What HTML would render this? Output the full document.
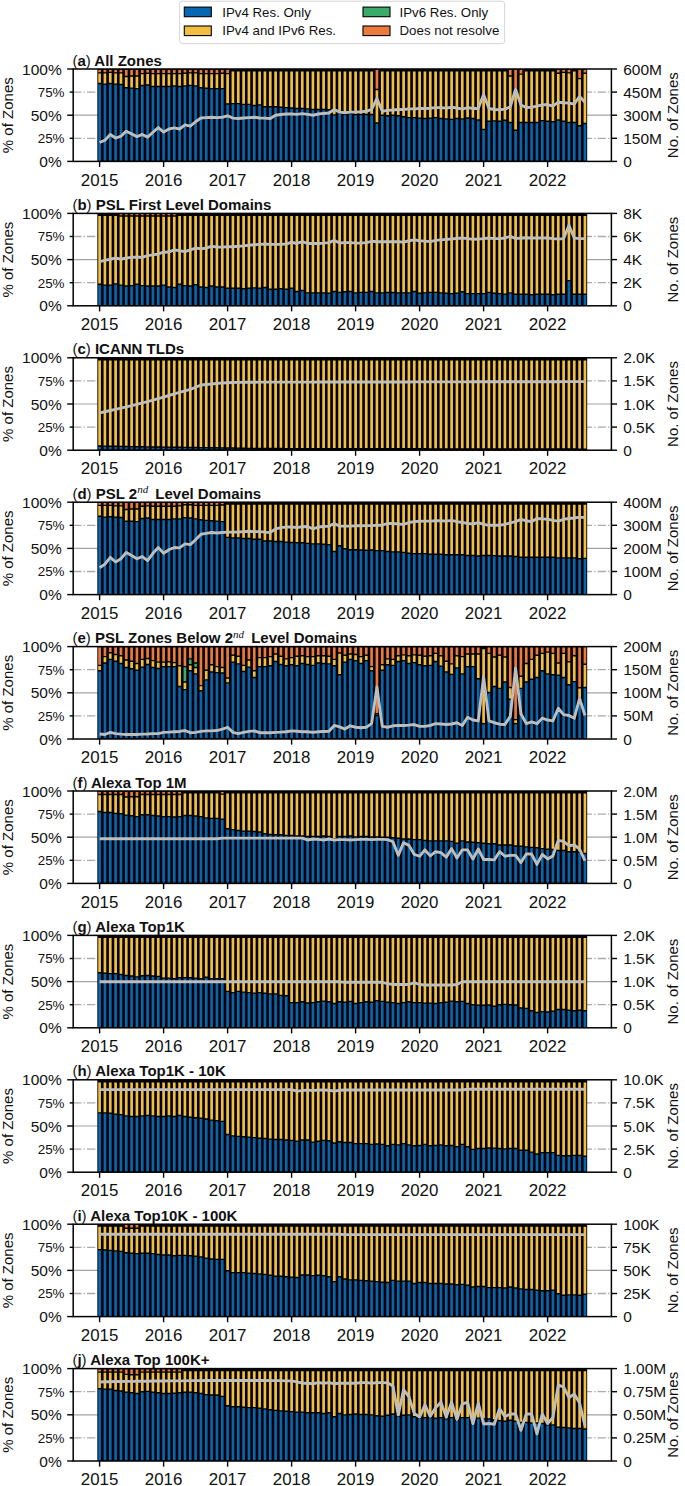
<!DOCTYPE html><html><head><meta charset="utf-8"><style>
html,body{margin:0;padding:0;background:#fff;width:685px;height:1486px;overflow:hidden}
svg{display:block}text{font-family:"Liberation Sans",sans-serif;fill:#111}
.t{font-size:15.5px}.mn{font-size:13.4px}.x{font-size:16.9px}.yl{font-size:15px}.ti{font-size:15px;font-weight:bold}.sup{font-family:"Liberation Serif",serif;font-style:italic;font-weight:normal;font-size:11px}
</style></head><body>
<svg width="685" height="1486" viewBox="0 0 685 1486">
<rect x="179.6" y="1.2" width="325" height="42.4" rx="2.5" fill="#fff" stroke="#d6d6d6" stroke-width="1"/>
<rect x="184.3" y="7.1" width="27" height="9.6" fill="#0866b0" stroke="#000" stroke-width="1.1"/>
<text x="222.20000000000002" y="16.5" font-size="13.3">IPv4 Res. Only</text>
<rect x="184.3" y="26.0" width="27" height="9.6" fill="#f2be42" stroke="#000" stroke-width="1.1"/>
<text x="222.20000000000002" y="35.4" font-size="13.3">IPv4 and IPv6 Res.</text>
<rect x="363.0" y="7.1" width="27" height="9.6" fill="#3baa6a" stroke="#000" stroke-width="1.1"/>
<text x="399.5" y="16.5" font-size="13.3">IPv6 Res. Only</text>
<rect x="363.0" y="26.0" width="27" height="9.6" fill="#eb7a3c" stroke="#000" stroke-width="1.1"/>
<text x="399.5" y="35.4" font-size="13.3">Does not resolve</text>
<line x1="73.2" x2="611.4" y1="138.30" y2="138.30" stroke="#aaaaaa" stroke-width="1.3" stroke-dasharray="8.3,2.1,1.3,2.1"/>
<line x1="73.2" x2="611.4" y1="92.10" y2="92.10" stroke="#aaaaaa" stroke-width="1.3" stroke-dasharray="8.3,2.1,1.3,2.1"/>
<line x1="73.2" x2="611.4" y1="115.20" y2="115.20" stroke="#a4a4a4" stroke-width="1.2"/>
<rect x="97.35" y="69.00" width="489.83" height="92.40" fill="#000"/>
<path fill="#0866b0" d="M98.25 84.26h2.7v76.44h-2.7zM103.58 84.80h2.7v75.90h-2.7zM108.92 84.26h2.7v76.44h-2.7zM114.25 84.80h2.7v75.90h-2.7zM119.58 85.16h2.7v75.54h-2.7zM124.92 88.42h2.7v72.28h-2.7zM130.25 88.78h2.7v71.92h-2.7zM135.58 89.33h2.7v71.37h-2.7zM140.92 86.25h2.7v74.45h-2.7zM146.25 85.71h2.7v74.99h-2.7zM151.58 87.16h2.7v73.54h-2.7zM156.92 87.16h2.7v73.54h-2.7zM162.25 87.16h2.7v73.54h-2.7zM167.58 87.16h2.7v73.54h-2.7zM172.92 86.61h2.7v74.09h-2.7zM178.25 87.16h2.7v73.54h-2.7zM183.58 86.61h2.7v74.09h-2.7zM188.92 86.07h2.7v74.63h-2.7zM194.25 86.61h2.7v74.09h-2.7zM199.58 88.42h2.7v72.28h-2.7zM204.92 88.97h2.7v71.73h-2.7zM210.25 89.33h2.7v71.37h-2.7zM215.58 89.33h2.7v71.37h-2.7zM220.92 89.33h2.7v71.37h-2.7zM226.25 104.71h2.7v55.99h-2.7zM231.58 104.35h2.7v56.35h-2.7zM236.92 104.35h2.7v56.35h-2.7zM242.25 105.08h2.7v55.62h-2.7zM247.58 105.08h2.7v55.62h-2.7zM252.92 106.16h2.7v54.54h-2.7zM258.25 105.62h2.7v55.08h-2.7zM263.58 107.43h2.7v53.27h-2.7zM268.92 107.43h2.7v53.27h-2.7zM274.25 107.43h2.7v53.27h-2.7zM279.58 107.97h2.7v52.73h-2.7zM284.92 108.34h2.7v52.36h-2.7zM290.25 108.70h2.7v52.00h-2.7zM295.58 109.24h2.7v51.46h-2.7zM300.92 109.24h2.7v51.46h-2.7zM306.25 109.60h2.7v51.10h-2.7zM311.58 110.15h2.7v50.55h-2.7zM316.92 110.15h2.7v50.55h-2.7zM322.25 110.15h2.7v50.55h-2.7zM327.58 110.51h2.7v50.19h-2.7zM332.92 115.58h2.7v45.12h-2.7zM338.25 113.40h2.7v47.30h-2.7zM343.58 115.21h2.7v45.49h-2.7zM348.92 114.13h2.7v46.57h-2.7zM354.25 115.21h2.7v45.49h-2.7zM359.58 115.21h2.7v45.49h-2.7zM364.92 115.21h2.7v45.49h-2.7zM370.25 115.21h2.7v45.49h-2.7zM375.58 123.72h2.7v36.98h-2.7zM380.92 115.94h2.7v44.76h-2.7zM386.25 116.48h2.7v44.22h-2.7zM391.58 115.94h2.7v44.76h-2.7zM396.92 116.48h2.7v44.22h-2.7zM402.25 117.39h2.7v43.31h-2.7zM407.58 118.29h2.7v42.41h-2.7zM412.92 118.29h2.7v42.41h-2.7zM418.25 118.83h2.7v41.87h-2.7zM423.58 119.20h2.7v41.50h-2.7zM428.92 118.83h2.7v41.87h-2.7zM434.25 118.29h2.7v42.41h-2.7zM439.58 119.20h2.7v41.50h-2.7zM444.92 119.56h2.7v41.14h-2.7zM450.25 120.10h2.7v40.60h-2.7zM455.58 119.20h2.7v41.50h-2.7zM460.92 119.56h2.7v41.14h-2.7zM466.25 118.65h2.7v42.05h-2.7zM471.58 119.20h2.7v41.50h-2.7zM476.92 120.64h2.7v40.06h-2.7zM482.25 130.06h2.7v30.64h-2.7zM487.58 121.91h2.7v38.79h-2.7zM492.92 121.55h2.7v39.15h-2.7zM498.25 121.91h2.7v38.79h-2.7zM503.58 121.01h2.7v39.69h-2.7zM508.92 123.18h2.7v37.52h-2.7zM514.25 130.96h2.7v29.74h-2.7zM519.58 123.18h2.7v37.52h-2.7zM524.92 123.18h2.7v37.52h-2.7zM530.25 123.18h2.7v37.52h-2.7zM535.58 123.18h2.7v37.52h-2.7zM540.92 121.37h2.7v39.33h-2.7zM546.25 121.91h2.7v38.79h-2.7zM551.58 122.45h2.7v38.25h-2.7zM556.92 120.64h2.7v40.06h-2.7zM562.25 121.91h2.7v38.79h-2.7zM567.58 123.18h2.7v37.52h-2.7zM572.92 123.18h2.7v37.52h-2.7zM578.25 126.44h2.7v34.26h-2.7zM583.58 124.26h2.7v36.44h-2.7z"/>
<path fill="#f2be42" d="M98.25 73.58h2.7v9.28h-2.7zM103.58 73.58h2.7v9.82h-2.7zM108.92 73.04h2.7v9.82h-2.7zM114.25 73.58h2.7v9.82h-2.7zM119.58 73.58h2.7v10.19h-2.7zM124.92 77.20h2.7v9.82h-2.7zM130.25 76.66h2.7v10.73h-2.7zM135.58 76.66h2.7v11.27h-2.7zM140.92 74.30h2.7v10.55h-2.7zM146.25 73.94h2.7v10.37h-2.7zM151.58 74.30h2.7v11.45h-2.7zM156.92 74.30h2.7v11.45h-2.7zM162.25 74.30h2.7v11.45h-2.7zM167.58 74.30h2.7v11.45h-2.7zM172.92 74.30h2.7v10.91h-2.7zM178.25 74.30h2.7v11.45h-2.7zM183.58 73.94h2.7v11.27h-2.7zM188.92 73.58h2.7v11.09h-2.7zM194.25 73.58h2.7v11.63h-2.7zM199.58 74.30h2.7v12.72h-2.7zM204.92 74.30h2.7v13.26h-2.7zM210.25 74.30h2.7v13.62h-2.7zM215.58 74.30h2.7v13.62h-2.7zM220.92 73.94h2.7v13.99h-2.7zM226.25 74.30h2.7v29.01h-2.7zM231.58 71.60h2.7v31.35h-2.7zM236.92 71.60h2.7v31.35h-2.7zM242.25 71.60h2.7v32.08h-2.7zM247.58 71.60h2.7v32.08h-2.7zM252.92 71.60h2.7v33.16h-2.7zM258.25 71.60h2.7v32.62h-2.7zM263.58 71.60h2.7v34.43h-2.7zM268.92 71.60h2.7v34.43h-2.7zM274.25 71.60h2.7v34.43h-2.7zM279.58 71.60h2.7v34.97h-2.7zM284.92 71.60h2.7v35.34h-2.7zM290.25 71.60h2.7v35.70h-2.7zM295.58 71.60h2.7v36.24h-2.7zM300.92 71.60h2.7v36.24h-2.7zM306.25 71.60h2.7v36.60h-2.7zM311.58 71.60h2.7v37.15h-2.7zM316.92 71.60h2.7v37.15h-2.7zM322.25 71.60h2.7v37.15h-2.7zM327.58 71.60h2.7v37.51h-2.7zM332.92 71.60h2.7v42.58h-2.7zM338.25 71.60h2.7v40.40h-2.7zM343.58 71.60h2.7v42.21h-2.7zM348.92 71.60h2.7v41.13h-2.7zM354.25 71.60h2.7v42.21h-2.7zM359.58 71.60h2.7v42.21h-2.7zM364.92 71.60h2.7v42.21h-2.7zM370.25 71.60h2.7v42.21h-2.7zM375.58 90.23h2.7v32.09h-2.7zM380.92 71.60h2.7v42.94h-2.7zM386.25 71.60h2.7v43.48h-2.7zM391.58 71.60h2.7v42.94h-2.7zM396.92 71.60h2.7v43.48h-2.7zM402.25 71.60h2.7v44.39h-2.7zM407.58 71.60h2.7v45.29h-2.7zM412.92 71.60h2.7v45.29h-2.7zM418.25 71.60h2.7v45.83h-2.7zM423.58 71.60h2.7v46.20h-2.7zM428.92 71.60h2.7v45.83h-2.7zM434.25 71.60h2.7v45.29h-2.7zM439.58 71.60h2.7v46.20h-2.7zM444.92 71.60h2.7v46.56h-2.7zM450.25 71.60h2.7v47.10h-2.7zM455.58 71.60h2.7v46.20h-2.7zM460.92 71.60h2.7v46.56h-2.7zM466.25 71.60h2.7v45.65h-2.7zM471.58 71.60h2.7v46.20h-2.7zM476.92 71.60h2.7v47.64h-2.7zM482.25 71.60h2.7v57.06h-2.7zM487.58 71.60h2.7v48.91h-2.7zM492.92 71.60h2.7v48.55h-2.7zM498.25 71.60h2.7v48.91h-2.7zM503.58 71.60h2.7v48.01h-2.7zM508.92 76.66h2.7v45.12h-2.7zM514.25 89.33h2.7v40.24h-2.7zM519.58 74.85h2.7v46.93h-2.7zM524.92 71.60h2.7v50.18h-2.7zM530.25 71.60h2.7v50.18h-2.7zM535.58 71.60h2.7v50.18h-2.7zM540.92 71.60h2.7v48.37h-2.7zM546.25 71.60h2.7v48.91h-2.7zM551.58 71.60h2.7v49.45h-2.7zM556.92 73.94h2.7v45.30h-2.7zM562.25 73.04h2.7v47.48h-2.7zM567.58 73.58h2.7v48.20h-2.7zM572.92 71.60h2.7v50.18h-2.7zM578.25 79.37h2.7v45.67h-2.7zM583.58 73.94h2.7v48.92h-2.7z"/>
<path fill="#eb7a3c" d="M98.25 69.70h2.7v2.48h-2.7zM103.58 69.70h2.7v2.48h-2.7zM108.92 69.70h2.7v1.94h-2.7zM114.25 69.70h2.7v2.48h-2.7zM119.58 69.70h2.7v2.48h-2.7zM124.92 69.70h2.7v6.10h-2.7zM130.25 69.70h2.7v5.56h-2.7zM135.58 69.70h2.7v5.56h-2.7zM140.92 69.70h2.7v3.20h-2.7zM146.25 69.70h2.7v2.84h-2.7zM151.58 69.70h2.7v3.20h-2.7zM156.92 69.70h2.7v3.20h-2.7zM162.25 69.70h2.7v3.20h-2.7zM167.58 69.70h2.7v3.20h-2.7zM172.92 69.70h2.7v3.20h-2.7zM178.25 69.70h2.7v3.20h-2.7zM183.58 69.70h2.7v2.84h-2.7zM188.92 69.70h2.7v2.48h-2.7zM194.25 69.70h2.7v2.48h-2.7zM199.58 69.70h2.7v3.20h-2.7zM204.92 69.70h2.7v3.20h-2.7zM210.25 69.70h2.7v3.20h-2.7zM215.58 69.70h2.7v3.20h-2.7zM220.92 69.70h2.7v2.84h-2.7zM226.25 69.70h2.7v3.20h-2.7zM375.58 69.70h2.7v19.13h-2.7zM508.92 69.70h2.7v5.56h-2.7zM514.25 69.70h2.7v18.23h-2.7zM519.58 69.70h2.7v3.75h-2.7zM556.92 69.70h2.7v2.84h-2.7zM562.25 69.70h2.7v1.94h-2.7zM567.58 69.70h2.7v2.48h-2.7zM578.25 69.70h2.7v8.27h-2.7zM583.58 69.70h2.7v2.84h-2.7z"/>
<polyline points="99.60,142.39 104.93,140.22 110.27,134.43 115.60,138.05 120.93,136.24 126.27,131.17 131.60,133.88 136.93,136.60 142.27,134.43 147.60,137.14 152.93,132.25 158.27,127.55 163.60,132.07 168.93,129.00 174.27,127.91 179.60,129.00 184.93,124.83 190.27,126.10 195.60,121.75 200.93,117.95 206.27,117.59 211.60,117.23 216.93,117.59 222.27,117.23 227.60,115.78 232.93,118.13 238.27,118.50 243.60,117.95 248.93,117.59 254.27,117.23 259.60,117.95 264.93,118.13 270.27,118.50 275.60,115.24 280.93,114.51 286.27,113.97 291.60,113.97 296.93,114.33 302.27,113.61 307.60,114.33 312.93,115.24 318.27,113.97 323.60,113.43 328.93,113.07 334.27,109.45 339.60,112.16 344.93,112.70 350.27,112.16 355.60,112.16 360.93,111.80 366.27,111.26 371.60,109.45 376.93,98.58 382.27,111.26 387.60,110.35 392.93,109.99 398.27,109.45 403.60,109.45 408.93,108.90 414.27,108.90 419.60,108.54 424.93,108.54 430.27,108.18 435.60,107.64 440.93,107.64 446.27,108.18 451.60,107.27 456.93,108.00 462.27,109.08 467.60,107.64 472.93,108.54 478.27,108.54 483.60,94.60 488.93,108.54 494.27,109.45 499.60,109.81 504.93,109.08 510.27,106.73 515.60,89.17 520.93,104.92 526.27,107.64 531.60,107.27 536.93,106.19 542.27,104.92 547.60,104.56 552.93,106.19 558.27,102.20 563.60,102.75 568.93,103.11 574.27,104.01 579.60,96.41 584.93,102.20" fill="none" stroke="#bebebe" stroke-width="2.9" stroke-linejoin="round"/>
<rect x="73.2" y="69.0" width="538.1999999999999" height="92.4" fill="none" stroke="#000" stroke-width="1.5"/>
<line x1="67.2" x2="73.2" y1="161.40" y2="161.40" stroke="#000" stroke-width="1.4"/>
<line x1="611.4" x2="617.0" y1="161.40" y2="161.40" stroke="#000" stroke-width="1.4"/>
<text class="t" x="61.7" y="166.90" text-anchor="end">0%</text>
<text class="t" x="623.2" y="166.90">0</text>
<line x1="69.7" x2="73.2" y1="138.30" y2="138.30" stroke="#000" stroke-width="1.4"/>
<line x1="611.4" x2="617.0" y1="138.30" y2="138.30" stroke="#000" stroke-width="1.4"/>
<text class="mn" x="64.5" y="143.10" text-anchor="end">25%</text>
<text class="t" x="623.2" y="143.80">150M</text>
<line x1="67.2" x2="73.2" y1="115.20" y2="115.20" stroke="#000" stroke-width="1.4"/>
<line x1="611.4" x2="617.0" y1="115.20" y2="115.20" stroke="#000" stroke-width="1.4"/>
<text class="t" x="61.7" y="120.70" text-anchor="end">50%</text>
<text class="t" x="623.2" y="120.70">300M</text>
<line x1="69.7" x2="73.2" y1="92.10" y2="92.10" stroke="#000" stroke-width="1.4"/>
<line x1="611.4" x2="617.0" y1="92.10" y2="92.10" stroke="#000" stroke-width="1.4"/>
<text class="mn" x="64.5" y="96.90" text-anchor="end">75%</text>
<text class="t" x="623.2" y="97.60">450M</text>
<line x1="67.2" x2="73.2" y1="69.00" y2="69.00" stroke="#000" stroke-width="1.4"/>
<line x1="611.4" x2="617.0" y1="69.00" y2="69.00" stroke="#000" stroke-width="1.4"/>
<text class="t" x="61.7" y="74.50" text-anchor="end">100%</text>
<text class="t" x="623.2" y="74.50">600M</text>
<line x1="99.60" x2="99.60" y1="161.4" y2="167.0" stroke="#000" stroke-width="1.4"/>
<text class="x" x="99.60" y="185.60" text-anchor="middle">2015</text>
<line x1="163.60" x2="163.60" y1="161.4" y2="167.0" stroke="#000" stroke-width="1.4"/>
<text class="x" x="163.60" y="185.60" text-anchor="middle">2016</text>
<line x1="227.60" x2="227.60" y1="161.4" y2="167.0" stroke="#000" stroke-width="1.4"/>
<text class="x" x="227.60" y="185.60" text-anchor="middle">2017</text>
<line x1="291.60" x2="291.60" y1="161.4" y2="167.0" stroke="#000" stroke-width="1.4"/>
<text class="x" x="291.60" y="185.60" text-anchor="middle">2018</text>
<line x1="355.60" x2="355.60" y1="161.4" y2="167.0" stroke="#000" stroke-width="1.4"/>
<text class="x" x="355.60" y="185.60" text-anchor="middle">2019</text>
<line x1="419.60" x2="419.60" y1="161.4" y2="167.0" stroke="#000" stroke-width="1.4"/>
<text class="x" x="419.60" y="185.60" text-anchor="middle">2020</text>
<line x1="483.60" x2="483.60" y1="161.4" y2="167.0" stroke="#000" stroke-width="1.4"/>
<text class="x" x="483.60" y="185.60" text-anchor="middle">2021</text>
<line x1="547.60" x2="547.60" y1="161.4" y2="167.0" stroke="#000" stroke-width="1.4"/>
<text class="x" x="547.60" y="185.60" text-anchor="middle">2022</text>
<text class="ti" x="72.4" y="65.60"><tspan font-weight="normal">(</tspan>a<tspan font-weight="normal">)</tspan> All Zones</text>
<text class="yl" text-anchor="middle" transform="translate(12.8,115.20) rotate(-90)">% of Zones</text>
<text class="yl" text-anchor="middle" transform="translate(678.2,115.20) rotate(-90)">No. of Zones</text>
<line x1="73.2" x2="611.4" y1="282.70" y2="282.70" stroke="#aaaaaa" stroke-width="1.3" stroke-dasharray="8.3,2.1,1.3,2.1"/>
<line x1="73.2" x2="611.4" y1="236.50" y2="236.50" stroke="#aaaaaa" stroke-width="1.3" stroke-dasharray="8.3,2.1,1.3,2.1"/>
<line x1="73.2" x2="611.4" y1="259.60" y2="259.60" stroke="#a4a4a4" stroke-width="1.2"/>
<rect x="97.35" y="213.40" width="489.83" height="92.40" fill="#000"/>
<path fill="#0866b0" d="M98.25 284.92h2.7v20.18h-2.7zM103.58 285.82h2.7v19.28h-2.7zM108.92 285.82h2.7v19.28h-2.7zM114.25 284.56h2.7v20.54h-2.7zM119.58 285.82h2.7v19.28h-2.7zM124.92 286.73h2.7v18.37h-2.7zM130.25 286.37h2.7v18.73h-2.7zM135.58 284.92h2.7v20.18h-2.7zM140.92 286.37h2.7v18.73h-2.7zM146.25 286.73h2.7v18.37h-2.7zM151.58 286.73h2.7v18.37h-2.7zM156.92 286.73h2.7v18.37h-2.7zM162.25 285.82h2.7v19.28h-2.7zM167.58 287.63h2.7v17.47h-2.7zM172.92 288.18h2.7v16.92h-2.7zM178.25 284.92h2.7v20.18h-2.7zM183.58 286.37h2.7v18.73h-2.7zM188.92 286.73h2.7v18.37h-2.7zM194.25 285.28h2.7v19.82h-2.7zM199.58 287.63h2.7v17.47h-2.7zM204.92 288.18h2.7v16.92h-2.7zM210.25 286.73h2.7v18.37h-2.7zM215.58 287.63h2.7v17.47h-2.7zM220.92 287.63h2.7v17.47h-2.7zM226.25 288.90h2.7v16.20h-2.7zM231.58 288.90h2.7v16.20h-2.7zM236.92 288.90h2.7v16.20h-2.7zM242.25 289.44h2.7v15.66h-2.7zM247.58 288.90h2.7v16.20h-2.7zM252.92 288.54h2.7v16.56h-2.7zM258.25 288.90h2.7v16.20h-2.7zM263.58 288.18h2.7v16.92h-2.7zM268.92 289.99h2.7v15.11h-2.7zM274.25 289.99h2.7v15.11h-2.7zM279.58 289.44h2.7v15.66h-2.7zM284.92 289.99h2.7v15.11h-2.7zM290.25 288.90h2.7v16.20h-2.7zM295.58 292.16h2.7v12.94h-2.7zM300.92 291.25h2.7v13.85h-2.7zM306.25 293.61h2.7v11.49h-2.7zM311.58 293.61h2.7v11.49h-2.7zM316.92 293.61h2.7v11.49h-2.7zM322.25 293.61h2.7v11.49h-2.7zM327.58 293.97h2.7v11.13h-2.7zM332.92 292.16h2.7v12.94h-2.7zM338.25 293.06h2.7v12.04h-2.7zM343.58 292.52h2.7v12.58h-2.7zM348.92 292.16h2.7v12.94h-2.7zM354.25 293.61h2.7v11.49h-2.7zM359.58 293.06h2.7v12.04h-2.7zM364.92 293.06h2.7v12.04h-2.7zM370.25 292.16h2.7v12.94h-2.7zM375.58 293.61h2.7v11.49h-2.7zM380.92 293.61h2.7v11.49h-2.7zM386.25 293.25h2.7v11.85h-2.7zM391.58 293.25h2.7v11.85h-2.7zM396.92 293.61h2.7v11.49h-2.7zM402.25 293.61h2.7v11.49h-2.7zM407.58 293.61h2.7v11.49h-2.7zM412.92 292.16h2.7v12.94h-2.7zM418.25 293.97h2.7v11.13h-2.7zM423.58 293.61h2.7v11.49h-2.7zM428.92 293.06h2.7v12.04h-2.7zM434.25 293.06h2.7v12.04h-2.7zM439.58 293.61h2.7v11.49h-2.7zM444.92 293.97h2.7v11.13h-2.7zM450.25 294.33h2.7v10.77h-2.7zM455.58 293.97h2.7v11.13h-2.7zM460.92 292.52h2.7v12.58h-2.7zM466.25 294.33h2.7v10.77h-2.7zM471.58 294.33h2.7v10.77h-2.7zM476.92 294.33h2.7v10.77h-2.7zM482.25 294.33h2.7v10.77h-2.7zM487.58 293.06h2.7v12.04h-2.7zM492.92 293.97h2.7v11.13h-2.7zM498.25 294.33h2.7v10.77h-2.7zM503.58 294.88h2.7v10.22h-2.7zM508.92 293.61h2.7v11.49h-2.7zM514.25 294.88h2.7v10.22h-2.7zM519.58 294.88h2.7v10.22h-2.7zM524.92 294.88h2.7v10.22h-2.7zM530.25 295.42h2.7v9.68h-2.7zM535.58 294.88h2.7v10.22h-2.7zM540.92 294.88h2.7v10.22h-2.7zM546.25 294.88h2.7v10.22h-2.7zM551.58 295.42h2.7v9.68h-2.7zM556.92 294.88h2.7v10.22h-2.7zM562.25 294.88h2.7v10.22h-2.7zM567.58 281.30h2.7v23.80h-2.7zM572.92 294.88h2.7v10.22h-2.7zM578.25 294.88h2.7v10.22h-2.7zM583.58 294.88h2.7v10.22h-2.7z"/>
<path fill="#f2be42" d="M98.25 216.00h2.7v67.52h-2.7zM103.58 216.00h2.7v68.42h-2.7zM108.92 216.00h2.7v68.42h-2.7zM114.25 216.00h2.7v67.16h-2.7zM119.58 216.67h2.7v67.75h-2.7zM124.92 216.67h2.7v68.66h-2.7zM130.25 216.67h2.7v68.29h-2.7zM135.58 216.67h2.7v66.85h-2.7zM140.92 216.67h2.7v68.29h-2.7zM146.25 216.67h2.7v68.66h-2.7zM151.58 216.67h2.7v68.66h-2.7zM156.92 216.67h2.7v68.66h-2.7zM162.25 216.67h2.7v67.75h-2.7zM167.58 216.67h2.7v69.56h-2.7zM172.92 216.67h2.7v70.10h-2.7zM178.25 216.00h2.7v67.52h-2.7zM183.58 216.00h2.7v68.97h-2.7zM188.92 216.00h2.7v69.33h-2.7zM194.25 216.00h2.7v67.88h-2.7zM199.58 216.00h2.7v70.23h-2.7zM204.92 216.00h2.7v70.78h-2.7zM210.25 216.00h2.7v69.33h-2.7zM215.58 216.00h2.7v70.23h-2.7zM220.92 216.00h2.7v70.23h-2.7zM226.25 216.00h2.7v71.50h-2.7zM231.58 216.00h2.7v71.50h-2.7zM236.92 216.00h2.7v71.50h-2.7zM242.25 216.00h2.7v72.04h-2.7zM247.58 216.00h2.7v71.50h-2.7zM252.92 216.00h2.7v71.14h-2.7zM258.25 216.00h2.7v71.50h-2.7zM263.58 216.00h2.7v70.78h-2.7zM268.92 216.00h2.7v72.59h-2.7zM274.25 216.00h2.7v72.59h-2.7zM279.58 216.00h2.7v72.04h-2.7zM284.92 216.00h2.7v72.59h-2.7zM290.25 216.00h2.7v71.50h-2.7zM295.58 216.00h2.7v74.76h-2.7zM300.92 216.00h2.7v73.85h-2.7zM306.25 216.00h2.7v76.21h-2.7zM311.58 216.00h2.7v76.21h-2.7zM316.92 216.00h2.7v76.21h-2.7zM322.25 216.00h2.7v76.21h-2.7zM327.58 216.00h2.7v76.57h-2.7zM332.92 216.00h2.7v74.76h-2.7zM338.25 216.00h2.7v75.66h-2.7zM343.58 216.00h2.7v75.12h-2.7zM348.92 216.00h2.7v74.76h-2.7zM354.25 216.00h2.7v76.21h-2.7zM359.58 216.00h2.7v75.66h-2.7zM364.92 216.00h2.7v75.66h-2.7zM370.25 216.00h2.7v74.76h-2.7zM375.58 216.00h2.7v76.21h-2.7zM380.92 216.00h2.7v76.21h-2.7zM386.25 216.00h2.7v75.85h-2.7zM391.58 216.00h2.7v75.85h-2.7zM396.92 216.00h2.7v76.21h-2.7zM402.25 216.00h2.7v76.21h-2.7zM407.58 216.00h2.7v76.21h-2.7zM412.92 216.00h2.7v74.76h-2.7zM418.25 216.00h2.7v76.57h-2.7zM423.58 216.00h2.7v76.21h-2.7zM428.92 216.00h2.7v75.66h-2.7zM434.25 216.00h2.7v75.66h-2.7zM439.58 216.00h2.7v76.21h-2.7zM444.92 216.00h2.7v76.57h-2.7zM450.25 216.00h2.7v76.93h-2.7zM455.58 216.00h2.7v76.57h-2.7zM460.92 216.00h2.7v75.12h-2.7zM466.25 216.00h2.7v76.93h-2.7zM471.58 216.00h2.7v76.93h-2.7zM476.92 216.00h2.7v76.93h-2.7zM482.25 216.00h2.7v76.93h-2.7zM487.58 216.00h2.7v75.66h-2.7zM492.92 216.00h2.7v76.57h-2.7zM498.25 216.00h2.7v76.93h-2.7zM503.58 216.00h2.7v77.48h-2.7zM508.92 216.00h2.7v76.21h-2.7zM514.25 216.00h2.7v77.48h-2.7zM519.58 216.00h2.7v77.48h-2.7zM524.92 216.00h2.7v77.48h-2.7zM530.25 216.00h2.7v78.02h-2.7zM535.58 216.00h2.7v77.48h-2.7zM540.92 216.00h2.7v77.48h-2.7zM546.25 216.00h2.7v77.48h-2.7zM551.58 216.00h2.7v78.02h-2.7zM556.92 216.00h2.7v77.48h-2.7zM562.25 216.00h2.7v77.48h-2.7zM567.58 216.00h2.7v63.90h-2.7zM572.92 216.00h2.7v77.48h-2.7zM578.25 216.00h2.7v77.48h-2.7zM583.58 216.00h2.7v77.48h-2.7z"/>
<path fill="#eb7a3c" d="M119.58 214.10h2.7v1.17h-2.7zM124.92 214.10h2.7v1.17h-2.7zM130.25 214.10h2.7v1.17h-2.7zM135.58 214.10h2.7v1.17h-2.7zM140.92 214.10h2.7v1.17h-2.7zM146.25 214.10h2.7v1.17h-2.7zM151.58 214.10h2.7v1.17h-2.7zM156.92 214.10h2.7v1.17h-2.7zM162.25 214.10h2.7v1.17h-2.7zM167.58 214.10h2.7v1.17h-2.7zM172.92 214.10h2.7v1.17h-2.7z"/>
<polyline points="99.60,261.59 104.93,260.32 110.27,259.24 115.60,257.97 120.93,259.24 126.27,257.97 131.60,257.43 136.93,257.07 142.27,257.43 147.60,255.62 152.93,254.89 158.27,253.99 163.60,252.18 168.93,252.00 174.27,249.82 179.60,250.73 184.93,251.64 190.27,249.82 195.60,248.01 200.93,248.92 206.27,248.01 211.60,246.20 216.93,247.11 222.27,247.11 227.60,246.75 232.93,246.75 238.27,246.20 243.60,245.84 248.93,245.30 254.27,244.76 259.60,244.39 264.93,244.03 270.27,244.39 275.60,244.39 280.93,244.39 286.27,244.03 291.60,242.22 296.93,243.49 302.27,241.68 307.60,243.49 312.93,243.49 318.27,243.49 323.60,243.13 328.93,242.58 334.27,240.41 339.60,242.95 344.93,242.58 350.27,242.58 355.60,243.13 360.93,243.13 366.27,242.58 371.60,241.32 376.93,241.68 382.27,241.68 387.60,241.68 392.93,241.68 398.27,241.68 403.60,242.22 408.93,240.77 414.27,239.87 419.60,240.77 424.93,241.14 430.27,241.68 435.60,240.41 440.93,239.87 446.27,239.33 451.60,238.96 456.93,238.42 462.27,238.06 467.60,238.60 472.93,239.33 478.27,238.96 483.60,238.60 488.93,238.06 494.27,238.60 499.60,238.60 504.93,238.06 510.27,236.25 515.60,238.60 520.93,238.06 526.27,237.70 531.60,238.06 536.93,238.06 542.27,238.06 547.60,238.06 552.93,238.60 558.27,238.96 563.60,238.60 568.93,225.39 574.27,238.06 579.60,238.60 584.93,238.60" fill="none" stroke="#bebebe" stroke-width="2.9" stroke-linejoin="round"/>
<rect x="73.2" y="213.4" width="538.1999999999999" height="92.4" fill="none" stroke="#000" stroke-width="1.5"/>
<line x1="67.2" x2="73.2" y1="305.80" y2="305.80" stroke="#000" stroke-width="1.4"/>
<line x1="611.4" x2="617.0" y1="305.80" y2="305.80" stroke="#000" stroke-width="1.4"/>
<text class="t" x="61.7" y="311.30" text-anchor="end">0%</text>
<text class="t" x="623.2" y="311.30">0</text>
<line x1="69.7" x2="73.2" y1="282.70" y2="282.70" stroke="#000" stroke-width="1.4"/>
<line x1="611.4" x2="617.0" y1="282.70" y2="282.70" stroke="#000" stroke-width="1.4"/>
<text class="mn" x="64.5" y="287.50" text-anchor="end">25%</text>
<text class="t" x="623.2" y="288.20">2K</text>
<line x1="67.2" x2="73.2" y1="259.60" y2="259.60" stroke="#000" stroke-width="1.4"/>
<line x1="611.4" x2="617.0" y1="259.60" y2="259.60" stroke="#000" stroke-width="1.4"/>
<text class="t" x="61.7" y="265.10" text-anchor="end">50%</text>
<text class="t" x="623.2" y="265.10">4K</text>
<line x1="69.7" x2="73.2" y1="236.50" y2="236.50" stroke="#000" stroke-width="1.4"/>
<line x1="611.4" x2="617.0" y1="236.50" y2="236.50" stroke="#000" stroke-width="1.4"/>
<text class="mn" x="64.5" y="241.30" text-anchor="end">75%</text>
<text class="t" x="623.2" y="242.00">6K</text>
<line x1="67.2" x2="73.2" y1="213.40" y2="213.40" stroke="#000" stroke-width="1.4"/>
<line x1="611.4" x2="617.0" y1="213.40" y2="213.40" stroke="#000" stroke-width="1.4"/>
<text class="t" x="61.7" y="218.90" text-anchor="end">100%</text>
<text class="t" x="623.2" y="218.90">8K</text>
<line x1="99.60" x2="99.60" y1="305.8" y2="311.40000000000003" stroke="#000" stroke-width="1.4"/>
<text class="x" x="99.60" y="330.00" text-anchor="middle">2015</text>
<line x1="163.60" x2="163.60" y1="305.8" y2="311.40000000000003" stroke="#000" stroke-width="1.4"/>
<text class="x" x="163.60" y="330.00" text-anchor="middle">2016</text>
<line x1="227.60" x2="227.60" y1="305.8" y2="311.40000000000003" stroke="#000" stroke-width="1.4"/>
<text class="x" x="227.60" y="330.00" text-anchor="middle">2017</text>
<line x1="291.60" x2="291.60" y1="305.8" y2="311.40000000000003" stroke="#000" stroke-width="1.4"/>
<text class="x" x="291.60" y="330.00" text-anchor="middle">2018</text>
<line x1="355.60" x2="355.60" y1="305.8" y2="311.40000000000003" stroke="#000" stroke-width="1.4"/>
<text class="x" x="355.60" y="330.00" text-anchor="middle">2019</text>
<line x1="419.60" x2="419.60" y1="305.8" y2="311.40000000000003" stroke="#000" stroke-width="1.4"/>
<text class="x" x="419.60" y="330.00" text-anchor="middle">2020</text>
<line x1="483.60" x2="483.60" y1="305.8" y2="311.40000000000003" stroke="#000" stroke-width="1.4"/>
<text class="x" x="483.60" y="330.00" text-anchor="middle">2021</text>
<line x1="547.60" x2="547.60" y1="305.8" y2="311.40000000000003" stroke="#000" stroke-width="1.4"/>
<text class="x" x="547.60" y="330.00" text-anchor="middle">2022</text>
<text class="ti" x="72.4" y="210.00"><tspan font-weight="normal">(</tspan>b<tspan font-weight="normal">)</tspan> PSL First Level Domains</text>
<text class="yl" text-anchor="middle" transform="translate(12.8,259.60) rotate(-90)">% of Zones</text>
<text class="yl" text-anchor="middle" transform="translate(678.2,259.60) rotate(-90)">No. of Zones</text>
<line x1="73.2" x2="611.4" y1="427.10" y2="427.10" stroke="#aaaaaa" stroke-width="1.3" stroke-dasharray="8.3,2.1,1.3,2.1"/>
<line x1="73.2" x2="611.4" y1="380.90" y2="380.90" stroke="#aaaaaa" stroke-width="1.3" stroke-dasharray="8.3,2.1,1.3,2.1"/>
<line x1="73.2" x2="611.4" y1="404.00" y2="404.00" stroke="#a4a4a4" stroke-width="1.2"/>
<rect x="97.35" y="357.80" width="489.83" height="92.40" fill="#000"/>
<path fill="#0866b0" d="M98.25 446.74h2.7v2.76h-2.7zM103.58 446.83h2.7v2.67h-2.7zM108.92 446.93h2.7v2.57h-2.7zM114.25 447.02h2.7v2.48h-2.7zM119.58 447.11h2.7v2.39h-2.7zM124.92 447.20h2.7v2.30h-2.7zM130.25 447.30h2.7v2.20h-2.7zM135.58 447.39h2.7v2.11h-2.7zM140.92 447.48h2.7v2.02h-2.7zM146.25 447.57h2.7v1.93h-2.7zM151.58 447.67h2.7v1.83h-2.7zM156.92 447.74h2.7v1.76h-2.7zM162.25 447.80h2.7v1.70h-2.7zM167.58 447.87h2.7v1.63h-2.7zM172.92 447.94h2.7v1.56h-2.7zM178.25 448.01h2.7v1.49h-2.7zM183.58 448.08h2.7v1.42h-2.7zM188.92 448.15h2.7v1.35h-2.7zM194.25 448.22h2.7v1.28h-2.7zM199.58 448.29h2.7v1.21h-2.7zM204.92 448.36h2.7v1.14h-2.7zM210.25 448.43h2.7v1.07h-2.7zM215.58 448.50h2.7v1.00h-2.7zM220.92 448.59h2.7v0.91h-2.7zM226.25 448.68h2.7v0.82h-2.7zM231.58 448.77h2.7v0.73h-2.7zM236.92 448.87h2.7v0.63h-2.7zM242.25 448.96h2.7v0.54h-2.7zM247.58 449.05h2.7v0.45h-2.7zM252.92 449.14h2.7v0.36h-2.7zM258.25 449.24h2.7v0.26h-2.7zM263.58 449.25h2.7v0.25h-2.7z"/>
<path fill="#f2be42" d="M98.25 360.40h2.7v84.94h-2.7zM103.58 360.40h2.7v85.03h-2.7zM108.92 360.40h2.7v85.13h-2.7zM114.25 360.40h2.7v85.22h-2.7zM119.58 360.40h2.7v85.31h-2.7zM124.92 360.40h2.7v85.40h-2.7zM130.25 360.40h2.7v85.50h-2.7zM135.58 360.40h2.7v85.59h-2.7zM140.92 360.40h2.7v85.68h-2.7zM146.25 360.40h2.7v85.77h-2.7zM151.58 360.40h2.7v85.87h-2.7zM156.92 360.40h2.7v85.94h-2.7zM162.25 360.40h2.7v86.00h-2.7zM167.58 360.40h2.7v86.07h-2.7zM172.92 360.40h2.7v86.14h-2.7zM178.25 360.40h2.7v86.21h-2.7zM183.58 360.40h2.7v86.28h-2.7zM188.92 360.40h2.7v86.35h-2.7zM194.25 360.40h2.7v86.42h-2.7zM199.58 360.40h2.7v86.49h-2.7zM204.92 360.40h2.7v86.56h-2.7zM210.25 360.40h2.7v86.63h-2.7zM215.58 360.40h2.7v86.70h-2.7zM220.92 360.40h2.7v86.79h-2.7zM226.25 360.40h2.7v86.88h-2.7zM231.58 360.40h2.7v86.97h-2.7zM236.92 360.40h2.7v87.07h-2.7zM242.25 360.40h2.7v87.16h-2.7zM247.58 360.40h2.7v87.25h-2.7zM252.92 360.40h2.7v87.34h-2.7zM258.25 360.40h2.7v87.44h-2.7zM263.58 360.40h2.7v87.45h-2.7zM268.92 360.40h2.7v87.45h-2.7zM274.25 360.40h2.7v87.46h-2.7zM279.58 360.40h2.7v87.47h-2.7zM284.92 360.40h2.7v87.48h-2.7zM290.25 360.40h2.7v87.49h-2.7zM295.58 360.40h2.7v87.50h-2.7zM300.92 360.40h2.7v87.51h-2.7zM306.25 360.40h2.7v87.52h-2.7zM311.58 360.40h2.7v87.53h-2.7zM316.92 360.40h2.7v87.54h-2.7zM322.25 360.40h2.7v87.55h-2.7zM327.58 360.40h2.7v87.55h-2.7zM332.92 360.40h2.7v87.56h-2.7zM338.25 360.40h2.7v87.57h-2.7zM343.58 360.40h2.7v87.58h-2.7zM348.92 360.40h2.7v87.59h-2.7zM354.25 360.40h2.7v87.60h-2.7zM359.58 360.40h2.7v87.61h-2.7zM364.92 360.40h2.7v87.62h-2.7zM370.25 360.40h2.7v87.63h-2.7zM375.58 360.40h2.7v87.64h-2.7zM380.92 360.40h2.7v87.65h-2.7zM386.25 360.40h2.7v87.65h-2.7zM391.58 360.40h2.7v87.66h-2.7zM396.92 360.40h2.7v87.67h-2.7zM402.25 360.40h2.7v87.68h-2.7zM407.58 360.40h2.7v87.69h-2.7zM412.92 360.40h2.7v87.70h-2.7zM418.25 360.40h2.7v87.71h-2.7zM423.58 360.40h2.7v87.72h-2.7zM428.92 360.40h2.7v87.73h-2.7zM434.25 360.40h2.7v87.74h-2.7zM439.58 360.40h2.7v87.75h-2.7zM444.92 360.40h2.7v87.75h-2.7zM450.25 360.40h2.7v87.76h-2.7zM455.58 360.40h2.7v87.77h-2.7zM460.92 360.40h2.7v87.78h-2.7zM466.25 360.40h2.7v87.79h-2.7zM471.58 360.40h2.7v87.80h-2.7zM476.92 360.40h2.7v87.81h-2.7zM482.25 360.40h2.7v87.82h-2.7zM487.58 360.40h2.7v87.83h-2.7zM492.92 360.40h2.7v87.84h-2.7zM498.25 360.40h2.7v87.85h-2.7zM503.58 360.40h2.7v87.85h-2.7zM508.92 360.40h2.7v87.86h-2.7zM514.25 360.40h2.7v87.87h-2.7zM519.58 360.40h2.7v87.88h-2.7zM524.92 360.40h2.7v87.89h-2.7zM530.25 360.40h2.7v87.90h-2.7zM535.58 360.40h2.7v87.91h-2.7zM540.92 360.40h2.7v87.92h-2.7zM546.25 360.40h2.7v87.93h-2.7zM551.58 360.40h2.7v87.94h-2.7zM556.92 360.40h2.7v87.95h-2.7zM562.25 360.40h2.7v87.95h-2.7zM567.58 360.40h2.7v87.96h-2.7zM572.92 360.40h2.7v87.97h-2.7zM578.25 360.40h2.7v87.98h-2.7zM583.58 360.40h2.7v87.99h-2.7z"/>
<polyline points="99.60,412.96 104.93,411.75 110.27,410.53 115.60,409.31 120.93,408.10 126.27,406.88 131.60,405.66 136.93,404.30 142.27,402.94 147.60,401.57 152.93,400.21 158.27,398.64 163.60,397.07 168.93,395.50 174.27,393.97 179.60,392.45 184.93,390.93 190.27,389.40 195.60,387.23 200.93,385.06 206.27,384.53 211.60,384.00 216.93,383.46 222.27,382.93 227.60,382.75 232.93,382.56 238.27,382.38 243.60,382.19 248.93,382.18 254.27,382.18 259.60,382.17 264.93,382.16 270.27,382.15 275.60,382.14 280.93,382.13 286.27,382.12 291.60,382.12 296.93,382.11 302.27,382.10 307.60,382.09 312.93,382.08 318.27,382.07 323.60,382.06 328.93,382.06 334.27,382.05 339.60,382.04 344.93,382.03 350.27,382.02 355.60,382.01 360.93,382.00 366.27,381.99 371.60,381.99 376.93,381.98 382.27,381.97 387.60,381.96 392.93,381.95 398.27,381.94 403.60,381.93 408.93,381.93 414.27,381.92 419.60,381.91 424.93,381.90 430.27,381.89 435.60,381.88 440.93,381.87 446.27,381.86 451.60,381.86 456.93,381.85 462.27,381.84 467.60,381.83 472.93,381.82 478.27,381.81 483.60,381.80 488.93,381.80 494.27,381.79 499.60,381.78 504.93,381.77 510.27,381.76 515.60,381.75 520.93,381.74 526.27,381.73 531.60,381.73 536.93,381.72 542.27,381.71 547.60,381.70 552.93,381.69 558.27,381.68 563.60,381.67 568.93,381.67 574.27,381.66 579.60,381.65 584.93,381.64" fill="none" stroke="#bebebe" stroke-width="2.9" stroke-linejoin="round"/>
<rect x="73.2" y="357.8" width="538.1999999999999" height="92.4" fill="none" stroke="#000" stroke-width="1.5"/>
<line x1="67.2" x2="73.2" y1="450.20" y2="450.20" stroke="#000" stroke-width="1.4"/>
<line x1="611.4" x2="617.0" y1="450.20" y2="450.20" stroke="#000" stroke-width="1.4"/>
<text class="t" x="61.7" y="455.70" text-anchor="end">0%</text>
<text class="t" x="623.2" y="455.70">0</text>
<line x1="69.7" x2="73.2" y1="427.10" y2="427.10" stroke="#000" stroke-width="1.4"/>
<line x1="611.4" x2="617.0" y1="427.10" y2="427.10" stroke="#000" stroke-width="1.4"/>
<text class="mn" x="64.5" y="431.90" text-anchor="end">25%</text>
<text class="t" x="623.2" y="432.60">0.5K</text>
<line x1="67.2" x2="73.2" y1="404.00" y2="404.00" stroke="#000" stroke-width="1.4"/>
<line x1="611.4" x2="617.0" y1="404.00" y2="404.00" stroke="#000" stroke-width="1.4"/>
<text class="t" x="61.7" y="409.50" text-anchor="end">50%</text>
<text class="t" x="623.2" y="409.50">1.0K</text>
<line x1="69.7" x2="73.2" y1="380.90" y2="380.90" stroke="#000" stroke-width="1.4"/>
<line x1="611.4" x2="617.0" y1="380.90" y2="380.90" stroke="#000" stroke-width="1.4"/>
<text class="mn" x="64.5" y="385.70" text-anchor="end">75%</text>
<text class="t" x="623.2" y="386.40">1.5K</text>
<line x1="67.2" x2="73.2" y1="357.80" y2="357.80" stroke="#000" stroke-width="1.4"/>
<line x1="611.4" x2="617.0" y1="357.80" y2="357.80" stroke="#000" stroke-width="1.4"/>
<text class="t" x="61.7" y="363.30" text-anchor="end">100%</text>
<text class="t" x="623.2" y="363.30">2.0K</text>
<line x1="99.60" x2="99.60" y1="450.20000000000005" y2="455.80000000000007" stroke="#000" stroke-width="1.4"/>
<text class="x" x="99.60" y="474.40" text-anchor="middle">2015</text>
<line x1="163.60" x2="163.60" y1="450.20000000000005" y2="455.80000000000007" stroke="#000" stroke-width="1.4"/>
<text class="x" x="163.60" y="474.40" text-anchor="middle">2016</text>
<line x1="227.60" x2="227.60" y1="450.20000000000005" y2="455.80000000000007" stroke="#000" stroke-width="1.4"/>
<text class="x" x="227.60" y="474.40" text-anchor="middle">2017</text>
<line x1="291.60" x2="291.60" y1="450.20000000000005" y2="455.80000000000007" stroke="#000" stroke-width="1.4"/>
<text class="x" x="291.60" y="474.40" text-anchor="middle">2018</text>
<line x1="355.60" x2="355.60" y1="450.20000000000005" y2="455.80000000000007" stroke="#000" stroke-width="1.4"/>
<text class="x" x="355.60" y="474.40" text-anchor="middle">2019</text>
<line x1="419.60" x2="419.60" y1="450.20000000000005" y2="455.80000000000007" stroke="#000" stroke-width="1.4"/>
<text class="x" x="419.60" y="474.40" text-anchor="middle">2020</text>
<line x1="483.60" x2="483.60" y1="450.20000000000005" y2="455.80000000000007" stroke="#000" stroke-width="1.4"/>
<text class="x" x="483.60" y="474.40" text-anchor="middle">2021</text>
<line x1="547.60" x2="547.60" y1="450.20000000000005" y2="455.80000000000007" stroke="#000" stroke-width="1.4"/>
<text class="x" x="547.60" y="474.40" text-anchor="middle">2022</text>
<text class="ti" x="72.4" y="354.40"><tspan font-weight="normal">(</tspan>c<tspan font-weight="normal">)</tspan> ICANN TLDs</text>
<text class="yl" text-anchor="middle" transform="translate(12.8,404.00) rotate(-90)">% of Zones</text>
<text class="yl" text-anchor="middle" transform="translate(678.2,404.00) rotate(-90)">No. of Zones</text>
<line x1="73.2" x2="611.4" y1="571.50" y2="571.50" stroke="#aaaaaa" stroke-width="1.3" stroke-dasharray="8.3,2.1,1.3,2.1"/>
<line x1="73.2" x2="611.4" y1="525.30" y2="525.30" stroke="#aaaaaa" stroke-width="1.3" stroke-dasharray="8.3,2.1,1.3,2.1"/>
<line x1="73.2" x2="611.4" y1="548.40" y2="548.40" stroke="#a4a4a4" stroke-width="1.2"/>
<rect x="97.35" y="502.20" width="489.83" height="92.40" fill="#000"/>
<path fill="#0866b0" d="M98.25 516.90h2.7v77.00h-2.7zM103.58 517.80h2.7v76.10h-2.7zM108.92 517.44h2.7v76.46h-2.7zM114.25 517.80h2.7v76.10h-2.7zM119.58 518.16h2.7v75.74h-2.7zM124.92 521.97h2.7v71.93h-2.7zM130.25 521.97h2.7v71.93h-2.7zM135.58 522.33h2.7v71.57h-2.7zM140.92 519.25h2.7v74.65h-2.7zM146.25 518.71h2.7v75.19h-2.7zM151.58 520.16h2.7v73.74h-2.7zM156.92 520.16h2.7v73.74h-2.7zM162.25 520.16h2.7v73.74h-2.7zM167.58 520.16h2.7v73.74h-2.7zM172.92 519.61h2.7v74.29h-2.7zM178.25 519.61h2.7v74.29h-2.7zM183.58 518.35h2.7v75.55h-2.7zM188.92 518.71h2.7v75.19h-2.7zM194.25 519.61h2.7v74.29h-2.7zM199.58 520.52h2.7v73.38h-2.7zM204.92 521.06h2.7v72.84h-2.7zM210.25 521.42h2.7v72.48h-2.7zM215.58 521.78h2.7v72.12h-2.7zM220.92 522.33h2.7v71.57h-2.7zM226.25 538.08h2.7v55.82h-2.7zM231.58 538.62h2.7v55.28h-2.7zM236.92 538.62h2.7v55.28h-2.7zM242.25 539.16h2.7v54.74h-2.7zM247.58 539.16h2.7v54.74h-2.7zM252.92 539.89h2.7v54.01h-2.7zM258.25 539.89h2.7v54.01h-2.7zM263.58 541.70h2.7v52.20h-2.7zM268.92 541.70h2.7v52.20h-2.7zM274.25 542.24h2.7v51.66h-2.7zM279.58 542.24h2.7v51.66h-2.7zM284.92 542.78h2.7v51.12h-2.7zM290.25 543.15h2.7v50.75h-2.7zM295.58 543.51h2.7v50.39h-2.7zM300.92 543.51h2.7v50.39h-2.7zM306.25 544.05h2.7v49.85h-2.7zM311.58 544.59h2.7v49.31h-2.7zM316.92 544.59h2.7v49.31h-2.7zM322.25 544.96h2.7v48.94h-2.7zM327.58 545.32h2.7v48.58h-2.7zM332.92 552.20h2.7v41.70h-2.7zM338.25 546.40h2.7v47.50h-2.7zM343.58 549.48h2.7v44.42h-2.7zM348.92 550.39h2.7v43.51h-2.7zM354.25 550.39h2.7v43.51h-2.7zM359.58 550.75h2.7v43.15h-2.7zM364.92 550.93h2.7v42.97h-2.7zM370.25 550.75h2.7v43.15h-2.7zM375.58 551.29h2.7v42.61h-2.7zM380.92 551.29h2.7v42.61h-2.7zM386.25 552.20h2.7v41.70h-2.7zM391.58 552.56h2.7v41.34h-2.7zM396.92 552.56h2.7v41.34h-2.7zM402.25 553.10h2.7v40.80h-2.7zM407.58 554.01h2.7v39.89h-2.7zM412.92 554.37h2.7v39.53h-2.7zM418.25 554.37h2.7v39.53h-2.7zM423.58 554.37h2.7v39.53h-2.7zM428.92 554.91h2.7v38.99h-2.7zM434.25 554.91h2.7v38.99h-2.7zM439.58 554.91h2.7v38.99h-2.7zM444.92 555.45h2.7v38.45h-2.7zM450.25 555.45h2.7v38.45h-2.7zM455.58 555.45h2.7v38.45h-2.7zM460.92 555.45h2.7v38.45h-2.7zM466.25 556.18h2.7v37.72h-2.7zM471.58 556.18h2.7v37.72h-2.7zM476.92 556.72h2.7v37.18h-2.7zM482.25 556.18h2.7v37.72h-2.7zM487.58 556.18h2.7v37.72h-2.7zM492.92 556.36h2.7v37.54h-2.7zM498.25 556.72h2.7v37.18h-2.7zM503.58 556.72h2.7v37.18h-2.7zM508.92 556.72h2.7v37.18h-2.7zM514.25 557.26h2.7v36.64h-2.7zM519.58 557.99h2.7v35.91h-2.7zM524.92 557.99h2.7v35.91h-2.7zM530.25 557.99h2.7v35.91h-2.7zM535.58 557.99h2.7v35.91h-2.7zM540.92 557.99h2.7v35.91h-2.7zM546.25 557.99h2.7v35.91h-2.7zM551.58 557.99h2.7v35.91h-2.7zM556.92 558.53h2.7v35.37h-2.7zM562.25 558.53h2.7v35.37h-2.7zM567.58 558.53h2.7v35.37h-2.7zM572.92 558.53h2.7v35.37h-2.7zM578.25 559.44h2.7v34.46h-2.7zM583.58 559.08h2.7v34.82h-2.7z"/>
<path fill="#f2be42" d="M98.25 506.04h2.7v9.46h-2.7zM103.58 506.04h2.7v10.37h-2.7zM108.92 506.04h2.7v10.00h-2.7zM114.25 506.58h2.7v9.82h-2.7zM119.58 506.58h2.7v10.19h-2.7zM124.92 510.20h2.7v10.37h-2.7zM130.25 509.66h2.7v10.91h-2.7zM135.58 509.66h2.7v11.27h-2.7zM140.92 506.94h2.7v10.91h-2.7zM146.25 506.58h2.7v10.73h-2.7zM151.58 506.94h2.7v11.81h-2.7zM156.92 506.94h2.7v11.81h-2.7zM162.25 506.94h2.7v11.81h-2.7zM167.58 506.94h2.7v11.81h-2.7zM172.92 506.94h2.7v11.27h-2.7zM178.25 506.58h2.7v11.63h-2.7zM183.58 505.49h2.7v11.45h-2.7zM188.92 505.49h2.7v11.81h-2.7zM194.25 506.04h2.7v12.18h-2.7zM199.58 506.04h2.7v13.08h-2.7zM204.92 506.04h2.7v13.62h-2.7zM210.25 506.04h2.7v13.99h-2.7zM215.58 506.04h2.7v14.35h-2.7zM220.92 505.67h2.7v15.25h-2.7zM226.25 504.80h2.7v31.88h-2.7zM231.58 504.80h2.7v32.42h-2.7zM236.92 504.80h2.7v32.42h-2.7zM242.25 504.80h2.7v32.96h-2.7zM247.58 504.80h2.7v32.96h-2.7zM252.92 504.80h2.7v33.69h-2.7zM258.25 504.80h2.7v33.69h-2.7zM263.58 504.80h2.7v35.50h-2.7zM268.92 504.80h2.7v35.50h-2.7zM274.25 504.80h2.7v36.04h-2.7zM279.58 504.80h2.7v36.04h-2.7zM284.92 504.80h2.7v36.58h-2.7zM290.25 504.80h2.7v36.95h-2.7zM295.58 504.80h2.7v37.31h-2.7zM300.92 504.80h2.7v37.31h-2.7zM306.25 504.80h2.7v37.85h-2.7zM311.58 504.80h2.7v38.39h-2.7zM316.92 504.80h2.7v38.39h-2.7zM322.25 504.80h2.7v38.76h-2.7zM327.58 504.80h2.7v39.12h-2.7zM332.92 504.80h2.7v46.00h-2.7zM338.25 504.80h2.7v40.20h-2.7zM343.58 504.80h2.7v43.28h-2.7zM348.92 504.80h2.7v44.19h-2.7zM354.25 504.80h2.7v44.19h-2.7zM359.58 504.80h2.7v44.55h-2.7zM364.92 504.80h2.7v44.73h-2.7zM370.25 504.80h2.7v44.55h-2.7zM375.58 504.80h2.7v45.09h-2.7zM380.92 504.80h2.7v45.09h-2.7zM386.25 504.80h2.7v46.00h-2.7zM391.58 504.80h2.7v46.36h-2.7zM396.92 504.80h2.7v46.36h-2.7zM402.25 504.80h2.7v46.90h-2.7zM407.58 504.80h2.7v47.81h-2.7zM412.92 504.80h2.7v48.17h-2.7zM418.25 504.80h2.7v48.17h-2.7zM423.58 504.80h2.7v48.17h-2.7zM428.92 504.80h2.7v48.71h-2.7zM434.25 504.80h2.7v48.71h-2.7zM439.58 504.80h2.7v48.71h-2.7zM444.92 504.80h2.7v49.25h-2.7zM450.25 504.80h2.7v49.25h-2.7zM455.58 504.80h2.7v49.25h-2.7zM460.92 504.80h2.7v49.25h-2.7zM466.25 504.80h2.7v49.98h-2.7zM471.58 504.80h2.7v49.98h-2.7zM476.92 504.80h2.7v50.52h-2.7zM482.25 504.80h2.7v49.98h-2.7zM487.58 504.80h2.7v49.98h-2.7zM492.92 504.80h2.7v50.16h-2.7zM498.25 504.80h2.7v50.52h-2.7zM503.58 504.80h2.7v50.52h-2.7zM508.92 504.80h2.7v50.52h-2.7zM514.25 504.80h2.7v51.06h-2.7zM519.58 504.80h2.7v51.79h-2.7zM524.92 504.80h2.7v51.79h-2.7zM530.25 504.80h2.7v51.79h-2.7zM535.58 504.80h2.7v51.79h-2.7zM540.92 504.80h2.7v51.79h-2.7zM546.25 504.80h2.7v51.79h-2.7zM551.58 504.80h2.7v51.79h-2.7zM556.92 504.80h2.7v52.33h-2.7zM562.25 504.80h2.7v52.33h-2.7zM567.58 504.80h2.7v52.33h-2.7zM572.92 504.80h2.7v52.33h-2.7zM578.25 504.80h2.7v53.24h-2.7zM583.58 504.80h2.7v52.88h-2.7z"/>
<path fill="#eb7a3c" d="M98.25 502.90h2.7v1.74h-2.7zM103.58 502.90h2.7v1.74h-2.7zM108.92 502.90h2.7v1.74h-2.7zM114.25 502.90h2.7v2.28h-2.7zM119.58 502.90h2.7v2.28h-2.7zM124.92 502.90h2.7v5.90h-2.7zM130.25 502.90h2.7v5.36h-2.7zM135.58 502.90h2.7v5.36h-2.7zM140.92 502.90h2.7v2.64h-2.7zM146.25 502.90h2.7v2.28h-2.7zM151.58 502.90h2.7v2.64h-2.7zM156.92 502.90h2.7v2.64h-2.7zM162.25 502.90h2.7v2.64h-2.7zM167.58 502.90h2.7v2.64h-2.7zM172.92 502.90h2.7v2.64h-2.7zM178.25 502.90h2.7v2.28h-2.7zM183.58 502.90h2.7v1.19h-2.7zM188.92 502.90h2.7v1.19h-2.7zM194.25 502.90h2.7v1.74h-2.7zM199.58 502.90h2.7v1.74h-2.7zM204.92 502.90h2.7v1.74h-2.7zM210.25 502.90h2.7v1.74h-2.7zM215.58 502.90h2.7v1.74h-2.7zM220.92 502.90h2.7v1.37h-2.7z"/>
<polyline points="99.60,567.79 104.93,564.17 110.27,557.29 115.60,562.00 120.93,558.74 126.27,552.40 131.60,555.48 136.93,558.74 142.27,556.56 147.60,560.55 152.93,553.31 158.27,547.51 163.60,553.31 168.93,549.69 174.27,547.51 179.60,547.88 184.93,543.89 190.27,544.62 195.60,539.73 200.93,534.30 206.27,533.39 211.60,532.49 216.93,533.03 222.27,532.49 227.60,532.13 232.93,532.13 238.27,531.95 243.60,531.58 248.93,531.22 254.27,531.58 259.60,531.58 264.93,532.13 270.27,532.49 275.60,528.87 280.93,527.60 286.27,527.06 291.60,527.06 296.93,527.60 302.27,526.70 307.60,526.52 312.93,528.87 318.27,527.06 323.60,526.52 328.93,526.15 334.27,523.44 339.60,526.15 344.93,526.15 350.27,526.15 355.60,525.79 360.93,525.79 366.27,525.61 371.60,525.61 376.93,525.25 382.27,525.25 387.60,523.44 392.93,523.44 398.27,523.98 403.60,524.34 408.93,522.53 414.27,521.63 419.60,521.27 424.93,521.08 430.27,521.08 435.60,520.72 440.93,520.72 446.27,521.08 451.60,520.36 456.93,521.63 462.27,522.53 467.60,523.44 472.93,523.98 478.27,522.53 483.60,524.34 488.93,525.25 494.27,525.25 499.60,525.25 504.93,524.34 510.27,522.89 515.60,521.63 520.93,519.46 526.27,520.72 531.60,521.63 536.93,518.55 542.27,518.91 547.60,519.27 552.93,520.36 558.27,521.08 563.60,519.27 568.93,518.55 574.27,518.01 579.60,517.10 584.93,517.65" fill="none" stroke="#bebebe" stroke-width="2.9" stroke-linejoin="round"/>
<rect x="73.2" y="502.20000000000005" width="538.1999999999999" height="92.4" fill="none" stroke="#000" stroke-width="1.5"/>
<line x1="67.2" x2="73.2" y1="594.60" y2="594.60" stroke="#000" stroke-width="1.4"/>
<line x1="611.4" x2="617.0" y1="594.60" y2="594.60" stroke="#000" stroke-width="1.4"/>
<text class="t" x="61.7" y="600.10" text-anchor="end">0%</text>
<text class="t" x="623.2" y="600.10">0</text>
<line x1="69.7" x2="73.2" y1="571.50" y2="571.50" stroke="#000" stroke-width="1.4"/>
<line x1="611.4" x2="617.0" y1="571.50" y2="571.50" stroke="#000" stroke-width="1.4"/>
<text class="mn" x="64.5" y="576.30" text-anchor="end">25%</text>
<text class="t" x="623.2" y="577.00">100M</text>
<line x1="67.2" x2="73.2" y1="548.40" y2="548.40" stroke="#000" stroke-width="1.4"/>
<line x1="611.4" x2="617.0" y1="548.40" y2="548.40" stroke="#000" stroke-width="1.4"/>
<text class="t" x="61.7" y="553.90" text-anchor="end">50%</text>
<text class="t" x="623.2" y="553.90">200M</text>
<line x1="69.7" x2="73.2" y1="525.30" y2="525.30" stroke="#000" stroke-width="1.4"/>
<line x1="611.4" x2="617.0" y1="525.30" y2="525.30" stroke="#000" stroke-width="1.4"/>
<text class="mn" x="64.5" y="530.10" text-anchor="end">75%</text>
<text class="t" x="623.2" y="530.80">300M</text>
<line x1="67.2" x2="73.2" y1="502.20" y2="502.20" stroke="#000" stroke-width="1.4"/>
<line x1="611.4" x2="617.0" y1="502.20" y2="502.20" stroke="#000" stroke-width="1.4"/>
<text class="t" x="61.7" y="507.70" text-anchor="end">100%</text>
<text class="t" x="623.2" y="507.70">400M</text>
<line x1="99.60" x2="99.60" y1="594.6" y2="600.2" stroke="#000" stroke-width="1.4"/>
<text class="x" x="99.60" y="618.80" text-anchor="middle">2015</text>
<line x1="163.60" x2="163.60" y1="594.6" y2="600.2" stroke="#000" stroke-width="1.4"/>
<text class="x" x="163.60" y="618.80" text-anchor="middle">2016</text>
<line x1="227.60" x2="227.60" y1="594.6" y2="600.2" stroke="#000" stroke-width="1.4"/>
<text class="x" x="227.60" y="618.80" text-anchor="middle">2017</text>
<line x1="291.60" x2="291.60" y1="594.6" y2="600.2" stroke="#000" stroke-width="1.4"/>
<text class="x" x="291.60" y="618.80" text-anchor="middle">2018</text>
<line x1="355.60" x2="355.60" y1="594.6" y2="600.2" stroke="#000" stroke-width="1.4"/>
<text class="x" x="355.60" y="618.80" text-anchor="middle">2019</text>
<line x1="419.60" x2="419.60" y1="594.6" y2="600.2" stroke="#000" stroke-width="1.4"/>
<text class="x" x="419.60" y="618.80" text-anchor="middle">2020</text>
<line x1="483.60" x2="483.60" y1="594.6" y2="600.2" stroke="#000" stroke-width="1.4"/>
<text class="x" x="483.60" y="618.80" text-anchor="middle">2021</text>
<line x1="547.60" x2="547.60" y1="594.6" y2="600.2" stroke="#000" stroke-width="1.4"/>
<text class="x" x="547.60" y="618.80" text-anchor="middle">2022</text>
<text class="ti" x="72.4" y="498.80"><tspan font-weight="normal">(</tspan>d<tspan font-weight="normal">)</tspan> PSL 2<tspan class="sup" dy="-5.5">nd</tspan><tspan dy="5.5" dx="3"> Level Domains</tspan></text>
<text class="yl" text-anchor="middle" transform="translate(12.8,548.40) rotate(-90)">% of Zones</text>
<text class="yl" text-anchor="middle" transform="translate(678.2,548.40) rotate(-90)">No. of Zones</text>
<line x1="73.2" x2="611.4" y1="715.90" y2="715.90" stroke="#aaaaaa" stroke-width="1.3" stroke-dasharray="8.3,2.1,1.3,2.1"/>
<line x1="73.2" x2="611.4" y1="669.70" y2="669.70" stroke="#aaaaaa" stroke-width="1.3" stroke-dasharray="8.3,2.1,1.3,2.1"/>
<line x1="73.2" x2="611.4" y1="692.80" y2="692.80" stroke="#a4a4a4" stroke-width="1.2"/>
<rect x="97.35" y="646.60" width="489.83" height="92.40" fill="#000"/>
<path fill="#0866b0" d="M98.25 671.49h2.7v66.81h-2.7zM103.58 663.71h2.7v74.59h-2.7zM108.92 660.09h2.7v78.21h-2.7zM114.25 661.90h2.7v76.40h-2.7zM119.58 664.25h2.7v74.05h-2.7zM124.92 668.23h2.7v70.07h-2.7zM130.25 669.50h2.7v68.80h-2.7zM135.58 670.95h2.7v67.35h-2.7zM140.92 667.87h2.7v70.43h-2.7zM146.25 665.16h2.7v73.14h-2.7zM151.58 668.23h2.7v70.07h-2.7zM156.92 669.14h2.7v69.16h-2.7zM162.25 667.33h2.7v70.97h-2.7zM167.58 667.33h2.7v70.97h-2.7zM172.92 667.33h2.7v70.97h-2.7zM178.25 687.24h2.7v51.06h-2.7zM183.58 690.32h2.7v47.98h-2.7zM188.92 671.49h2.7v66.81h-2.7zM194.25 674.57h2.7v63.73h-2.7zM199.58 691.40h2.7v46.90h-2.7zM204.92 680.54h2.7v57.76h-2.7zM210.25 672.76h2.7v65.54h-2.7zM215.58 673.30h2.7v65.00h-2.7zM220.92 673.66h2.7v64.64h-2.7zM226.25 683.62h2.7v54.68h-2.7zM231.58 662.80h2.7v75.50h-2.7zM236.92 664.61h2.7v73.69h-2.7zM242.25 672.22h2.7v66.08h-2.7zM247.58 667.87h2.7v70.43h-2.7zM252.92 678.19h2.7v60.11h-2.7zM258.25 667.33h2.7v70.97h-2.7zM263.58 667.33h2.7v70.97h-2.7zM268.92 666.42h2.7v71.88h-2.7zM274.25 662.26h2.7v76.04h-2.7zM279.58 665.16h2.7v73.14h-2.7zM284.92 666.42h2.7v71.88h-2.7zM290.25 665.52h2.7v72.78h-2.7zM295.58 666.42h2.7v71.88h-2.7zM300.92 664.25h2.7v74.05h-2.7zM306.25 665.16h2.7v73.14h-2.7zM311.58 666.06h2.7v72.24h-2.7zM316.92 663.71h2.7v74.59h-2.7zM322.25 664.25h2.7v74.05h-2.7zM327.58 664.61h2.7v73.69h-2.7zM332.92 666.42h2.7v71.88h-2.7zM338.25 675.47h2.7v62.83h-2.7zM343.58 662.80h2.7v75.50h-2.7zM348.92 660.09h2.7v78.21h-2.7zM354.25 661.35h2.7v76.95h-2.7zM359.58 664.25h2.7v74.05h-2.7zM364.92 661.35h2.7v76.95h-2.7zM370.25 671.49h2.7v66.81h-2.7zM375.58 716.20h2.7v22.10h-2.7zM380.92 670.95h2.7v67.35h-2.7zM386.25 665.52h2.7v72.78h-2.7zM391.58 666.06h2.7v72.24h-2.7zM396.92 662.26h2.7v76.04h-2.7zM402.25 661.35h2.7v76.95h-2.7zM407.58 664.25h2.7v74.05h-2.7zM412.92 663.35h2.7v74.95h-2.7zM418.25 665.52h2.7v72.78h-2.7zM423.58 666.42h2.7v71.88h-2.7zM428.92 666.06h2.7v72.24h-2.7zM434.25 662.26h2.7v76.04h-2.7zM439.58 666.78h2.7v71.52h-2.7zM444.92 672.76h2.7v65.54h-2.7zM450.25 675.11h2.7v63.19h-2.7zM455.58 668.59h2.7v69.71h-2.7zM460.92 674.57h2.7v63.73h-2.7zM466.25 667.33h2.7v70.97h-2.7zM471.58 667.33h2.7v70.97h-2.7zM476.92 679.46h2.7v58.84h-2.7zM482.25 724.35h2.7v13.95h-2.7zM487.58 693.21h2.7v45.09h-2.7zM492.92 687.24h2.7v51.06h-2.7zM498.25 689.05h2.7v49.25h-2.7zM503.58 682.71h2.7v55.59h-2.7zM508.92 699.91h2.7v38.39h-2.7zM514.25 724.35h2.7v13.95h-2.7zM519.58 689.05h2.7v49.25h-2.7zM524.92 682.71h2.7v55.59h-2.7zM530.25 680.00h2.7v58.30h-2.7zM535.58 678.19h2.7v60.11h-2.7zM540.92 671.49h2.7v66.81h-2.7zM546.25 674.57h2.7v63.73h-2.7zM551.58 675.47h2.7v62.83h-2.7zM556.92 675.84h2.7v62.46h-2.7zM562.25 678.19h2.7v60.11h-2.7zM567.58 685.43h2.7v52.87h-2.7zM572.92 682.35h2.7v55.95h-2.7zM578.25 699.01h2.7v39.29h-2.7zM583.58 688.15h2.7v50.15h-2.7z"/>
<path fill="#f2be42" d="M98.25 666.06h2.7v4.03h-2.7zM103.58 657.37h2.7v4.94h-2.7zM108.92 653.39h2.7v5.30h-2.7zM114.25 655.20h2.7v5.30h-2.7zM119.58 656.47h2.7v6.38h-2.7zM124.92 660.63h2.7v6.20h-2.7zM130.25 661.90h2.7v6.20h-2.7zM135.58 664.25h2.7v5.30h-2.7zM140.92 660.09h2.7v6.38h-2.7zM146.25 659.18h2.7v4.57h-2.7zM151.58 661.35h2.7v5.48h-2.7zM156.92 662.80h2.7v4.94h-2.7zM162.25 662.80h2.7v3.13h-2.7zM167.58 662.44h2.7v3.49h-2.7zM172.92 663.35h2.7v2.58h-2.7zM178.25 666.42h2.7v19.42h-2.7zM183.58 682.71h2.7v6.20h-2.7zM188.92 665.52h2.7v4.57h-2.7zM194.25 668.23h2.7v4.94h-2.7zM199.58 686.34h2.7v3.67h-2.7zM204.92 670.95h2.7v8.19h-2.7zM210.25 665.52h2.7v5.84h-2.7zM215.58 667.33h2.7v4.57h-2.7zM220.92 668.23h2.7v4.03h-2.7zM226.25 678.73h2.7v3.49h-2.7zM231.58 655.92h2.7v5.48h-2.7zM236.92 657.01h2.7v6.20h-2.7zM242.25 666.06h2.7v4.75h-2.7zM247.58 660.63h2.7v5.84h-2.7zM252.92 671.49h2.7v5.30h-2.7zM258.25 658.28h2.7v7.65h-2.7zM263.58 658.28h2.7v7.65h-2.7zM268.92 657.37h2.7v7.65h-2.7zM274.25 654.66h2.7v6.20h-2.7zM279.58 657.01h2.7v6.75h-2.7zM284.92 659.54h2.7v5.48h-2.7zM290.25 658.28h2.7v5.84h-2.7zM295.58 657.01h2.7v8.01h-2.7zM300.92 656.47h2.7v6.38h-2.7zM306.25 657.37h2.7v6.38h-2.7zM311.58 657.37h2.7v7.29h-2.7zM316.92 656.47h2.7v5.84h-2.7zM322.25 656.47h2.7v6.38h-2.7zM327.58 657.01h2.7v6.20h-2.7zM332.92 660.09h2.7v4.94h-2.7zM338.25 653.75h2.7v20.32h-2.7zM343.58 655.92h2.7v5.48h-2.7zM348.92 654.66h2.7v4.03h-2.7zM354.25 655.20h2.7v4.75h-2.7zM359.58 657.37h2.7v5.48h-2.7zM364.92 655.92h2.7v4.03h-2.7zM370.25 667.33h2.7v2.76h-2.7zM375.58 714.39h2.7v0.41h-2.7zM380.92 665.52h2.7v4.03h-2.7zM386.25 659.54h2.7v4.57h-2.7zM391.58 660.09h2.7v4.57h-2.7zM396.92 656.47h2.7v4.39h-2.7zM402.25 655.56h2.7v4.39h-2.7zM407.58 656.47h2.7v6.38h-2.7zM412.92 655.56h2.7v6.38h-2.7zM418.25 655.92h2.7v8.19h-2.7zM423.58 657.01h2.7v8.01h-2.7zM428.92 656.47h2.7v8.19h-2.7zM434.25 654.11h2.7v6.75h-2.7zM439.58 656.47h2.7v8.92h-2.7zM444.92 661.90h2.7v9.46h-2.7zM450.25 664.61h2.7v9.10h-2.7zM455.58 656.47h2.7v10.73h-2.7zM460.92 657.37h2.7v15.80h-2.7zM466.25 654.66h2.7v11.27h-2.7zM471.58 654.66h2.7v11.27h-2.7zM476.92 654.66h2.7v23.40h-2.7zM482.25 649.20h2.7v73.75h-2.7zM487.58 654.11h2.7v37.70h-2.7zM492.92 657.73h2.7v28.11h-2.7zM498.25 655.92h2.7v31.73h-2.7zM503.58 657.73h2.7v23.58h-2.7zM508.92 688.15h2.7v10.37h-2.7zM514.25 720.37h2.7v2.58h-2.7zM519.58 676.92h2.7v10.73h-2.7zM524.92 664.25h2.7v17.06h-2.7zM530.25 660.09h2.7v18.51h-2.7zM535.58 655.92h2.7v20.87h-2.7zM540.92 654.11h2.7v15.98h-2.7zM546.25 652.85h2.7v20.32h-2.7zM551.58 654.11h2.7v19.96h-2.7zM556.92 663.71h2.7v10.73h-2.7zM562.25 654.11h2.7v22.68h-2.7zM567.58 662.44h2.7v21.59h-2.7zM572.92 656.47h2.7v24.49h-2.7zM578.25 688.51h2.7v9.10h-2.7zM583.58 664.97h2.7v21.77h-2.7z"/>
<path fill="#3baa6a" d="M183.58 667.33h2.7v13.99h-2.7zM188.92 659.54h2.7v4.57h-2.7zM194.25 663.71h2.7v3.13h-2.7z"/>
<path fill="#eb7a3c" d="M98.25 647.30h2.7v17.36h-2.7zM103.58 647.30h2.7v8.67h-2.7zM108.92 647.30h2.7v4.69h-2.7zM114.25 647.30h2.7v6.50h-2.7zM119.58 647.30h2.7v7.77h-2.7zM124.92 647.30h2.7v11.93h-2.7zM130.25 647.30h2.7v13.20h-2.7zM135.58 647.30h2.7v15.55h-2.7zM140.92 647.30h2.7v11.39h-2.7zM146.25 647.30h2.7v10.48h-2.7zM151.58 647.30h2.7v12.65h-2.7zM156.92 647.30h2.7v14.10h-2.7zM162.25 647.30h2.7v14.10h-2.7zM167.58 647.30h2.7v13.74h-2.7zM172.92 647.30h2.7v14.65h-2.7zM178.25 647.30h2.7v17.72h-2.7zM183.58 647.30h2.7v18.63h-2.7zM188.92 647.30h2.7v10.84h-2.7zM194.25 647.30h2.7v15.01h-2.7zM199.58 647.30h2.7v37.64h-2.7zM204.92 647.30h2.7v22.25h-2.7zM210.25 647.30h2.7v16.82h-2.7zM215.58 647.30h2.7v18.63h-2.7zM220.92 647.30h2.7v19.53h-2.7zM226.25 647.30h2.7v30.03h-2.7zM231.58 647.30h2.7v7.22h-2.7zM236.92 647.30h2.7v8.31h-2.7zM242.25 647.30h2.7v17.36h-2.7zM247.58 647.30h2.7v11.93h-2.7zM252.92 647.30h2.7v22.79h-2.7zM258.25 647.30h2.7v9.58h-2.7zM263.58 647.30h2.7v9.58h-2.7zM268.92 647.30h2.7v8.67h-2.7zM274.25 647.30h2.7v5.96h-2.7zM279.58 647.30h2.7v8.31h-2.7zM284.92 647.30h2.7v10.84h-2.7zM290.25 647.30h2.7v9.58h-2.7zM295.58 647.30h2.7v8.31h-2.7zM300.92 647.30h2.7v7.77h-2.7zM306.25 647.30h2.7v8.67h-2.7zM311.58 647.30h2.7v8.67h-2.7zM316.92 647.30h2.7v7.77h-2.7zM322.25 647.30h2.7v7.77h-2.7zM327.58 647.30h2.7v8.31h-2.7zM332.92 647.30h2.7v11.39h-2.7zM338.25 647.30h2.7v5.05h-2.7zM343.58 647.30h2.7v7.22h-2.7zM348.92 647.30h2.7v5.96h-2.7zM354.25 647.30h2.7v6.50h-2.7zM359.58 647.30h2.7v8.67h-2.7zM364.92 647.30h2.7v7.22h-2.7zM370.25 647.30h2.7v18.63h-2.7zM375.58 647.30h2.7v65.69h-2.7zM380.92 647.30h2.7v16.82h-2.7zM386.25 647.30h2.7v10.84h-2.7zM391.58 647.30h2.7v11.39h-2.7zM396.92 647.30h2.7v7.77h-2.7zM402.25 647.30h2.7v6.86h-2.7zM407.58 647.30h2.7v7.77h-2.7zM412.92 647.30h2.7v6.86h-2.7zM418.25 647.30h2.7v7.22h-2.7zM423.58 647.30h2.7v8.31h-2.7zM428.92 647.30h2.7v7.77h-2.7zM434.25 647.30h2.7v5.41h-2.7zM439.58 647.30h2.7v7.77h-2.7zM444.92 647.30h2.7v13.20h-2.7zM450.25 647.30h2.7v15.91h-2.7zM455.58 647.30h2.7v7.77h-2.7zM460.92 647.30h2.7v8.67h-2.7zM466.25 647.30h2.7v5.96h-2.7zM471.58 647.30h2.7v5.96h-2.7zM476.92 647.30h2.7v5.96h-2.7zM487.58 647.30h2.7v5.41h-2.7zM492.92 647.30h2.7v9.03h-2.7zM498.25 647.30h2.7v7.22h-2.7zM503.58 647.30h2.7v9.03h-2.7zM508.92 647.30h2.7v39.45h-2.7zM514.25 647.30h2.7v71.67h-2.7zM519.58 647.30h2.7v28.22h-2.7zM524.92 647.30h2.7v15.55h-2.7zM530.25 647.30h2.7v11.39h-2.7zM535.58 647.30h2.7v7.22h-2.7zM540.92 647.30h2.7v5.41h-2.7zM546.25 647.30h2.7v4.15h-2.7zM551.58 647.30h2.7v5.41h-2.7zM556.92 647.30h2.7v15.01h-2.7zM562.25 647.30h2.7v5.41h-2.7zM567.58 647.30h2.7v13.74h-2.7zM572.92 647.30h2.7v7.77h-2.7zM578.25 647.30h2.7v39.81h-2.7zM583.58 647.30h2.7v16.27h-2.7z"/>
<polyline points="99.60,733.97 104.93,734.51 110.27,732.34 115.60,733.61 120.93,734.15 126.27,734.51 131.60,734.51 136.93,734.51 142.27,734.15 147.60,733.97 152.93,733.61 158.27,733.61 163.60,732.34 168.93,732.16 174.27,731.80 179.60,731.43 184.93,730.53 190.27,732.70 195.60,732.34 200.93,731.43 206.27,730.89 211.60,730.89 216.93,730.53 222.27,729.08 227.60,727.27 232.93,732.34 238.27,733.61 243.60,732.34 248.93,731.43 254.27,730.89 259.60,732.70 264.93,732.70 270.27,732.70 275.60,732.34 280.93,732.16 286.27,731.80 291.60,730.89 296.93,731.25 302.27,731.80 307.60,731.80 312.93,732.34 318.27,731.80 323.60,731.43 328.93,731.25 334.27,725.46 339.60,726.91 344.93,729.08 350.27,725.82 355.60,727.27 360.93,727.81 366.27,727.27 371.60,723.65 376.93,687.08 382.27,726.36 387.60,727.27 392.93,725.82 398.27,725.46 403.60,725.46 408.93,725.10 414.27,724.55 419.60,726.36 424.93,726.36 430.27,725.46 435.60,723.65 440.93,724.01 446.27,724.55 451.60,724.01 456.93,722.74 462.27,725.46 467.60,717.31 472.93,720.03 478.27,720.93 483.60,676.58 488.93,720.93 494.27,722.74 499.60,724.19 504.93,724.55 510.27,716.41 515.60,668.44 520.93,713.69 526.27,723.65 531.60,721.84 536.93,723.65 542.27,718.22 547.60,720.03 552.93,720.93 558.27,708.26 563.60,714.60 568.93,715.50 574.27,718.22 579.60,698.31 584.93,715.50" fill="none" stroke="#bebebe" stroke-width="2.9" stroke-linejoin="round"/>
<rect x="73.2" y="646.6" width="538.1999999999999" height="92.4" fill="none" stroke="#000" stroke-width="1.5"/>
<line x1="67.2" x2="73.2" y1="739.00" y2="739.00" stroke="#000" stroke-width="1.4"/>
<line x1="611.4" x2="617.0" y1="739.00" y2="739.00" stroke="#000" stroke-width="1.4"/>
<text class="t" x="61.7" y="744.50" text-anchor="end">0%</text>
<text class="t" x="623.2" y="744.50">0</text>
<line x1="69.7" x2="73.2" y1="715.90" y2="715.90" stroke="#000" stroke-width="1.4"/>
<line x1="611.4" x2="617.0" y1="715.90" y2="715.90" stroke="#000" stroke-width="1.4"/>
<text class="mn" x="64.5" y="720.70" text-anchor="end">25%</text>
<text class="t" x="623.2" y="721.40">50M</text>
<line x1="67.2" x2="73.2" y1="692.80" y2="692.80" stroke="#000" stroke-width="1.4"/>
<line x1="611.4" x2="617.0" y1="692.80" y2="692.80" stroke="#000" stroke-width="1.4"/>
<text class="t" x="61.7" y="698.30" text-anchor="end">50%</text>
<text class="t" x="623.2" y="698.30">100M</text>
<line x1="69.7" x2="73.2" y1="669.70" y2="669.70" stroke="#000" stroke-width="1.4"/>
<line x1="611.4" x2="617.0" y1="669.70" y2="669.70" stroke="#000" stroke-width="1.4"/>
<text class="mn" x="64.5" y="674.50" text-anchor="end">75%</text>
<text class="t" x="623.2" y="675.20">150M</text>
<line x1="67.2" x2="73.2" y1="646.60" y2="646.60" stroke="#000" stroke-width="1.4"/>
<line x1="611.4" x2="617.0" y1="646.60" y2="646.60" stroke="#000" stroke-width="1.4"/>
<text class="t" x="61.7" y="652.10" text-anchor="end">100%</text>
<text class="t" x="623.2" y="652.10">200M</text>
<line x1="99.60" x2="99.60" y1="739.0" y2="744.6" stroke="#000" stroke-width="1.4"/>
<text class="x" x="99.60" y="763.20" text-anchor="middle">2015</text>
<line x1="163.60" x2="163.60" y1="739.0" y2="744.6" stroke="#000" stroke-width="1.4"/>
<text class="x" x="163.60" y="763.20" text-anchor="middle">2016</text>
<line x1="227.60" x2="227.60" y1="739.0" y2="744.6" stroke="#000" stroke-width="1.4"/>
<text class="x" x="227.60" y="763.20" text-anchor="middle">2017</text>
<line x1="291.60" x2="291.60" y1="739.0" y2="744.6" stroke="#000" stroke-width="1.4"/>
<text class="x" x="291.60" y="763.20" text-anchor="middle">2018</text>
<line x1="355.60" x2="355.60" y1="739.0" y2="744.6" stroke="#000" stroke-width="1.4"/>
<text class="x" x="355.60" y="763.20" text-anchor="middle">2019</text>
<line x1="419.60" x2="419.60" y1="739.0" y2="744.6" stroke="#000" stroke-width="1.4"/>
<text class="x" x="419.60" y="763.20" text-anchor="middle">2020</text>
<line x1="483.60" x2="483.60" y1="739.0" y2="744.6" stroke="#000" stroke-width="1.4"/>
<text class="x" x="483.60" y="763.20" text-anchor="middle">2021</text>
<line x1="547.60" x2="547.60" y1="739.0" y2="744.6" stroke="#000" stroke-width="1.4"/>
<text class="x" x="547.60" y="763.20" text-anchor="middle">2022</text>
<text class="ti" x="72.4" y="643.20"><tspan font-weight="normal">(</tspan>e<tspan font-weight="normal">)</tspan> PSL Zones Below 2<tspan class="sup" dy="-5.5">nd</tspan><tspan dy="5.5" dx="3"> Level Domains</tspan></text>
<text class="yl" text-anchor="middle" transform="translate(12.8,692.80) rotate(-90)">% of Zones</text>
<text class="yl" text-anchor="middle" transform="translate(678.2,692.80) rotate(-90)">No. of Zones</text>
<line x1="73.2" x2="611.4" y1="860.30" y2="860.30" stroke="#aaaaaa" stroke-width="1.3" stroke-dasharray="8.3,2.1,1.3,2.1"/>
<line x1="73.2" x2="611.4" y1="814.10" y2="814.10" stroke="#aaaaaa" stroke-width="1.3" stroke-dasharray="8.3,2.1,1.3,2.1"/>
<line x1="73.2" x2="611.4" y1="837.20" y2="837.20" stroke="#a4a4a4" stroke-width="1.2"/>
<rect x="97.35" y="791.00" width="489.83" height="92.40" fill="#000"/>
<path fill="#0866b0" d="M98.25 812.23h2.7v70.47h-2.7zM103.58 813.14h2.7v69.56h-2.7zM108.92 813.14h2.7v69.56h-2.7zM114.25 814.04h2.7v68.66h-2.7zM119.58 814.41h2.7v68.29h-2.7zM124.92 815.85h2.7v66.85h-2.7zM130.25 816.40h2.7v66.30h-2.7zM135.58 817.30h2.7v65.40h-2.7zM140.92 815.49h2.7v67.21h-2.7zM146.25 815.49h2.7v67.21h-2.7zM151.58 816.22h2.7v66.48h-2.7zM156.92 816.76h2.7v65.94h-2.7zM162.25 817.30h2.7v65.40h-2.7zM167.58 817.30h2.7v65.40h-2.7zM172.92 817.66h2.7v65.04h-2.7zM178.25 817.30h2.7v65.40h-2.7zM183.58 816.22h2.7v66.48h-2.7zM188.92 816.22h2.7v66.48h-2.7zM194.25 816.76h2.7v65.94h-2.7zM199.58 817.30h2.7v65.40h-2.7zM204.92 818.57h2.7v64.13h-2.7zM210.25 819.11h2.7v63.59h-2.7zM215.58 819.11h2.7v63.59h-2.7zM220.92 819.84h2.7v62.86h-2.7zM226.25 829.43h2.7v53.27h-2.7zM231.58 830.34h2.7v52.36h-2.7zM236.92 831.24h2.7v51.46h-2.7zM242.25 831.78h2.7v50.92h-2.7zM247.58 831.78h2.7v50.92h-2.7zM252.92 832.15h2.7v50.55h-2.7zM258.25 832.69h2.7v50.01h-2.7zM263.58 834.32h2.7v48.38h-2.7zM268.92 835.22h2.7v47.48h-2.7zM274.25 835.40h2.7v47.30h-2.7zM279.58 835.40h2.7v47.30h-2.7zM284.92 836.13h2.7v46.57h-2.7zM290.25 836.13h2.7v46.57h-2.7zM295.58 836.67h2.7v46.03h-2.7zM300.92 836.67h2.7v46.03h-2.7zM306.25 837.21h2.7v45.49h-2.7zM311.58 837.21h2.7v45.49h-2.7zM316.92 837.21h2.7v45.49h-2.7zM322.25 836.67h2.7v46.03h-2.7zM327.58 837.21h2.7v45.49h-2.7zM332.92 839.75h2.7v42.95h-2.7zM338.25 837.21h2.7v45.49h-2.7zM343.58 837.21h2.7v45.49h-2.7zM348.92 836.67h2.7v46.03h-2.7zM354.25 837.58h2.7v45.12h-2.7zM359.58 837.21h2.7v45.49h-2.7zM364.92 837.21h2.7v45.49h-2.7zM370.25 837.58h2.7v45.12h-2.7zM375.58 837.58h2.7v45.12h-2.7zM380.92 837.94h2.7v44.76h-2.7zM386.25 837.94h2.7v44.76h-2.7zM391.58 838.48h2.7v44.22h-2.7zM396.92 839.02h2.7v43.68h-2.7zM402.25 839.75h2.7v42.95h-2.7zM407.58 839.75h2.7v42.95h-2.7zM412.92 840.29h2.7v42.41h-2.7zM418.25 840.29h2.7v42.41h-2.7zM423.58 841.20h2.7v41.50h-2.7zM428.92 841.56h2.7v41.14h-2.7zM434.25 841.56h2.7v41.14h-2.7zM439.58 841.56h2.7v41.14h-2.7zM444.92 841.56h2.7v41.14h-2.7zM450.25 842.10h2.7v40.60h-2.7zM455.58 843.91h2.7v38.79h-2.7zM460.92 841.56h2.7v41.14h-2.7zM466.25 842.64h2.7v40.06h-2.7zM471.58 843.01h2.7v39.69h-2.7zM476.92 843.37h2.7v39.33h-2.7zM482.25 843.91h2.7v38.79h-2.7zM487.58 844.45h2.7v38.25h-2.7zM492.92 844.45h2.7v38.25h-2.7zM498.25 845.72h2.7v36.98h-2.7zM503.58 845.72h2.7v36.98h-2.7zM508.92 845.72h2.7v36.98h-2.7zM514.25 846.63h2.7v36.07h-2.7zM519.58 846.99h2.7v35.71h-2.7zM524.92 847.53h2.7v35.17h-2.7zM530.25 848.08h2.7v34.62h-2.7zM535.58 848.44h2.7v34.26h-2.7zM540.92 849.34h2.7v33.36h-2.7zM546.25 849.89h2.7v32.81h-2.7zM551.58 850.25h2.7v32.45h-2.7zM556.92 851.15h2.7v31.55h-2.7zM562.25 851.15h2.7v31.55h-2.7zM567.58 852.42h2.7v30.28h-2.7zM572.92 852.42h2.7v30.28h-2.7zM578.25 852.96h2.7v29.74h-2.7zM583.58 854.23h2.7v28.47h-2.7z"/>
<path fill="#f2be42" d="M98.25 795.22h2.7v15.62h-2.7zM103.58 795.22h2.7v16.52h-2.7zM108.92 795.22h2.7v16.52h-2.7zM114.25 795.22h2.7v17.43h-2.7zM119.58 795.22h2.7v17.79h-2.7zM124.92 797.75h2.7v16.70h-2.7zM130.25 797.39h2.7v17.61h-2.7zM135.58 797.39h2.7v18.51h-2.7zM140.92 795.22h2.7v18.87h-2.7zM146.25 795.22h2.7v18.87h-2.7zM151.58 795.22h2.7v19.60h-2.7zM156.92 795.22h2.7v20.14h-2.7zM162.25 795.22h2.7v20.68h-2.7zM167.58 795.22h2.7v20.68h-2.7zM172.92 795.22h2.7v21.05h-2.7zM178.25 795.22h2.7v20.68h-2.7zM183.58 793.60h2.7v21.22h-2.7zM188.92 793.60h2.7v21.22h-2.7zM194.25 793.60h2.7v21.76h-2.7zM199.58 793.60h2.7v22.30h-2.7zM204.92 793.60h2.7v23.57h-2.7zM210.25 793.60h2.7v24.11h-2.7zM215.58 793.60h2.7v24.11h-2.7zM220.92 794.85h2.7v23.58h-2.7zM226.25 793.60h2.7v34.43h-2.7zM231.58 793.60h2.7v35.34h-2.7zM236.92 793.60h2.7v36.24h-2.7zM242.25 793.60h2.7v36.78h-2.7zM247.58 793.60h2.7v36.78h-2.7zM252.92 793.60h2.7v37.15h-2.7zM258.25 793.60h2.7v37.69h-2.7zM263.58 793.60h2.7v39.32h-2.7zM268.92 793.60h2.7v40.22h-2.7zM274.25 793.60h2.7v40.40h-2.7zM279.58 793.60h2.7v40.40h-2.7zM284.92 793.60h2.7v41.13h-2.7zM290.25 793.60h2.7v41.13h-2.7zM295.58 793.60h2.7v41.67h-2.7zM300.92 793.60h2.7v41.67h-2.7zM306.25 793.60h2.7v42.21h-2.7zM311.58 793.60h2.7v42.21h-2.7zM316.92 793.60h2.7v42.21h-2.7zM322.25 793.60h2.7v41.67h-2.7zM327.58 793.60h2.7v42.21h-2.7zM332.92 793.60h2.7v44.75h-2.7zM338.25 793.60h2.7v42.21h-2.7zM343.58 793.60h2.7v42.21h-2.7zM348.92 793.60h2.7v41.67h-2.7zM354.25 793.60h2.7v42.58h-2.7zM359.58 793.60h2.7v42.21h-2.7zM364.92 793.60h2.7v42.21h-2.7zM370.25 793.60h2.7v42.58h-2.7zM375.58 793.60h2.7v42.58h-2.7zM380.92 793.60h2.7v42.94h-2.7zM386.25 793.60h2.7v42.94h-2.7zM391.58 793.60h2.7v43.48h-2.7zM396.92 793.60h2.7v44.02h-2.7zM402.25 793.60h2.7v44.75h-2.7zM407.58 793.60h2.7v44.75h-2.7zM412.92 793.60h2.7v45.29h-2.7zM418.25 793.60h2.7v45.29h-2.7zM423.58 793.60h2.7v46.20h-2.7zM428.92 793.60h2.7v46.56h-2.7zM434.25 793.60h2.7v46.56h-2.7zM439.58 793.60h2.7v46.56h-2.7zM444.92 793.60h2.7v46.56h-2.7zM450.25 793.60h2.7v47.10h-2.7zM455.58 793.60h2.7v48.91h-2.7zM460.92 793.60h2.7v46.56h-2.7zM466.25 793.60h2.7v47.64h-2.7zM471.58 793.60h2.7v48.01h-2.7zM476.92 793.60h2.7v48.37h-2.7zM482.25 793.60h2.7v48.91h-2.7zM487.58 793.60h2.7v49.45h-2.7zM492.92 793.60h2.7v49.45h-2.7zM498.25 793.60h2.7v50.72h-2.7zM503.58 793.60h2.7v50.72h-2.7zM508.92 793.60h2.7v50.72h-2.7zM514.25 793.60h2.7v51.63h-2.7zM519.58 793.60h2.7v51.99h-2.7zM524.92 793.60h2.7v52.53h-2.7zM530.25 793.60h2.7v53.08h-2.7zM535.58 793.60h2.7v53.44h-2.7zM540.92 793.60h2.7v54.34h-2.7zM546.25 793.60h2.7v54.89h-2.7zM551.58 793.60h2.7v55.25h-2.7zM556.92 793.60h2.7v56.15h-2.7zM562.25 793.60h2.7v56.15h-2.7zM567.58 793.60h2.7v57.42h-2.7zM572.92 793.60h2.7v57.42h-2.7zM578.25 793.60h2.7v57.96h-2.7zM583.58 793.60h2.7v59.23h-2.7z"/>
<path fill="#eb7a3c" d="M98.25 791.70h2.7v2.12h-2.7zM103.58 791.70h2.7v2.12h-2.7zM108.92 791.70h2.7v2.12h-2.7zM114.25 791.70h2.7v2.12h-2.7zM119.58 791.70h2.7v2.12h-2.7zM124.92 791.70h2.7v4.65h-2.7zM130.25 791.70h2.7v4.29h-2.7zM135.58 791.70h2.7v4.29h-2.7zM140.92 791.70h2.7v2.12h-2.7zM146.25 791.70h2.7v2.12h-2.7zM151.58 791.70h2.7v2.12h-2.7zM156.92 791.70h2.7v2.12h-2.7zM162.25 791.70h2.7v2.12h-2.7zM167.58 791.70h2.7v2.12h-2.7zM172.92 791.70h2.7v2.12h-2.7zM178.25 791.70h2.7v2.12h-2.7zM220.92 791.70h2.7v1.75h-2.7z"/>
<polyline points="99.60,838.69 104.93,838.69 110.27,838.69 115.60,838.69 120.93,838.69 126.27,838.69 131.60,838.69 136.93,838.69 142.27,838.69 147.60,838.69 152.93,838.69 158.27,838.69 163.60,838.69 168.93,838.69 174.27,838.69 179.60,838.69 184.93,838.69 190.27,838.69 195.60,838.69 200.93,838.69 206.27,838.69 211.60,838.69 216.93,838.69 222.27,838.14 227.60,838.14 232.93,838.14 238.27,838.14 243.60,838.14 248.93,838.14 254.27,838.14 259.60,838.14 264.93,838.14 270.27,838.14 275.60,838.14 280.93,838.14 286.27,838.14 291.60,838.14 296.93,838.14 302.27,838.14 307.60,839.95 312.93,839.05 318.27,839.41 323.60,839.95 328.93,839.05 334.27,839.95 339.60,839.59 344.93,839.59 350.27,839.95 355.60,839.59 360.93,839.41 366.27,839.41 371.60,839.59 376.93,839.41 382.27,839.41 387.60,839.59 392.93,841.76 398.27,855.34 403.60,842.67 408.93,845.38 414.27,854.44 419.60,856.25 424.93,849.91 430.27,855.88 435.60,851.72 440.93,852.62 446.27,857.15 451.60,848.64 456.93,858.06 462.27,849.91 467.60,849.91 472.93,858.96 478.27,849.00 483.60,859.50 488.93,859.50 494.27,859.87 499.60,851.72 504.93,856.25 510.27,855.34 515.60,855.34 520.93,862.58 526.27,854.07 531.60,854.07 536.93,864.39 542.27,854.44 547.60,858.96 552.93,855.88 558.27,840.32 563.60,841.40 568.93,845.75 574.27,845.02 579.60,849.00 584.93,860.77" fill="none" stroke="#bebebe" stroke-width="2.9" stroke-linejoin="round"/>
<rect x="73.2" y="791.0" width="538.1999999999999" height="92.4" fill="none" stroke="#000" stroke-width="1.5"/>
<line x1="67.2" x2="73.2" y1="883.40" y2="883.40" stroke="#000" stroke-width="1.4"/>
<line x1="611.4" x2="617.0" y1="883.40" y2="883.40" stroke="#000" stroke-width="1.4"/>
<text class="t" x="61.7" y="888.90" text-anchor="end">0%</text>
<text class="t" x="623.2" y="888.90">0</text>
<line x1="69.7" x2="73.2" y1="860.30" y2="860.30" stroke="#000" stroke-width="1.4"/>
<line x1="611.4" x2="617.0" y1="860.30" y2="860.30" stroke="#000" stroke-width="1.4"/>
<text class="mn" x="64.5" y="865.10" text-anchor="end">25%</text>
<text class="t" x="623.2" y="865.80">0.5M</text>
<line x1="67.2" x2="73.2" y1="837.20" y2="837.20" stroke="#000" stroke-width="1.4"/>
<line x1="611.4" x2="617.0" y1="837.20" y2="837.20" stroke="#000" stroke-width="1.4"/>
<text class="t" x="61.7" y="842.70" text-anchor="end">50%</text>
<text class="t" x="623.2" y="842.70">1.0M</text>
<line x1="69.7" x2="73.2" y1="814.10" y2="814.10" stroke="#000" stroke-width="1.4"/>
<line x1="611.4" x2="617.0" y1="814.10" y2="814.10" stroke="#000" stroke-width="1.4"/>
<text class="mn" x="64.5" y="818.90" text-anchor="end">75%</text>
<text class="t" x="623.2" y="819.60">1.5M</text>
<line x1="67.2" x2="73.2" y1="791.00" y2="791.00" stroke="#000" stroke-width="1.4"/>
<line x1="611.4" x2="617.0" y1="791.00" y2="791.00" stroke="#000" stroke-width="1.4"/>
<text class="t" x="61.7" y="796.50" text-anchor="end">100%</text>
<text class="t" x="623.2" y="796.50">2.0M</text>
<line x1="99.60" x2="99.60" y1="883.4" y2="889.0" stroke="#000" stroke-width="1.4"/>
<text class="x" x="99.60" y="907.60" text-anchor="middle">2015</text>
<line x1="163.60" x2="163.60" y1="883.4" y2="889.0" stroke="#000" stroke-width="1.4"/>
<text class="x" x="163.60" y="907.60" text-anchor="middle">2016</text>
<line x1="227.60" x2="227.60" y1="883.4" y2="889.0" stroke="#000" stroke-width="1.4"/>
<text class="x" x="227.60" y="907.60" text-anchor="middle">2017</text>
<line x1="291.60" x2="291.60" y1="883.4" y2="889.0" stroke="#000" stroke-width="1.4"/>
<text class="x" x="291.60" y="907.60" text-anchor="middle">2018</text>
<line x1="355.60" x2="355.60" y1="883.4" y2="889.0" stroke="#000" stroke-width="1.4"/>
<text class="x" x="355.60" y="907.60" text-anchor="middle">2019</text>
<line x1="419.60" x2="419.60" y1="883.4" y2="889.0" stroke="#000" stroke-width="1.4"/>
<text class="x" x="419.60" y="907.60" text-anchor="middle">2020</text>
<line x1="483.60" x2="483.60" y1="883.4" y2="889.0" stroke="#000" stroke-width="1.4"/>
<text class="x" x="483.60" y="907.60" text-anchor="middle">2021</text>
<line x1="547.60" x2="547.60" y1="883.4" y2="889.0" stroke="#000" stroke-width="1.4"/>
<text class="x" x="547.60" y="907.60" text-anchor="middle">2022</text>
<text class="ti" x="72.4" y="787.60"><tspan font-weight="normal">(</tspan>f<tspan font-weight="normal">)</tspan> Alexa Top 1M</text>
<text class="yl" text-anchor="middle" transform="translate(12.8,837.20) rotate(-90)">% of Zones</text>
<text class="yl" text-anchor="middle" transform="translate(678.2,837.20) rotate(-90)">No. of Zones</text>
<line x1="73.2" x2="611.4" y1="1004.70" y2="1004.70" stroke="#aaaaaa" stroke-width="1.3" stroke-dasharray="8.3,2.1,1.3,2.1"/>
<line x1="73.2" x2="611.4" y1="958.50" y2="958.50" stroke="#aaaaaa" stroke-width="1.3" stroke-dasharray="8.3,2.1,1.3,2.1"/>
<line x1="73.2" x2="611.4" y1="981.60" y2="981.60" stroke="#a4a4a4" stroke-width="1.2"/>
<rect x="97.35" y="935.40" width="489.83" height="92.40" fill="#000"/>
<path fill="#0866b0" d="M98.25 973.43h2.7v53.67h-2.7zM103.58 973.97h2.7v53.13h-2.7zM108.92 974.34h2.7v52.76h-2.7zM114.25 974.34h2.7v52.76h-2.7zM119.58 975.24h2.7v51.86h-2.7zM124.92 976.15h2.7v50.95h-2.7zM130.25 976.69h2.7v50.41h-2.7zM135.58 977.59h2.7v49.51h-2.7zM140.92 976.51h2.7v50.59h-2.7zM146.25 976.15h2.7v50.95h-2.7zM151.58 976.69h2.7v50.41h-2.7zM156.92 977.05h2.7v50.05h-2.7zM162.25 978.86h2.7v48.24h-2.7zM167.58 978.86h2.7v48.24h-2.7zM172.92 979.40h2.7v47.70h-2.7zM178.25 978.50h2.7v48.60h-2.7zM183.58 978.32h2.7v48.78h-2.7zM188.92 978.50h2.7v48.60h-2.7zM194.25 978.86h2.7v48.24h-2.7zM199.58 979.40h2.7v47.70h-2.7zM204.92 977.96h2.7v49.14h-2.7zM210.25 979.40h2.7v47.70h-2.7zM215.58 979.40h2.7v47.70h-2.7zM220.92 979.40h2.7v47.70h-2.7zM226.25 992.08h2.7v35.02h-2.7zM231.58 993.34h2.7v33.76h-2.7zM236.92 992.08h2.7v35.02h-2.7zM242.25 992.80h2.7v34.30h-2.7zM247.58 993.34h2.7v33.76h-2.7zM252.92 993.89h2.7v33.21h-2.7zM258.25 993.34h2.7v33.76h-2.7zM263.58 993.89h2.7v33.21h-2.7zM268.92 994.61h2.7v32.49h-2.7zM274.25 994.61h2.7v32.49h-2.7zM279.58 996.06h2.7v31.04h-2.7zM284.92 996.42h2.7v30.68h-2.7zM290.25 1003.30h2.7v23.80h-2.7zM295.58 1003.30h2.7v23.80h-2.7zM300.92 1002.39h2.7v24.71h-2.7zM306.25 1003.66h2.7v23.44h-2.7zM311.58 1003.30h2.7v23.80h-2.7zM316.92 1002.39h2.7v24.71h-2.7zM322.25 1001.85h2.7v25.25h-2.7zM327.58 1002.39h2.7v24.71h-2.7zM332.92 1004.20h2.7v22.90h-2.7zM338.25 1002.39h2.7v24.71h-2.7zM343.58 1002.94h2.7v24.16h-2.7zM348.92 1002.03h2.7v25.07h-2.7zM354.25 1004.20h2.7v22.90h-2.7zM359.58 1003.30h2.7v23.80h-2.7zM364.92 1002.39h2.7v24.71h-2.7zM370.25 1002.94h2.7v24.16h-2.7zM375.58 1001.49h2.7v25.61h-2.7zM380.92 1002.03h2.7v25.07h-2.7zM386.25 1002.94h2.7v24.16h-2.7zM391.58 1003.30h2.7v23.80h-2.7zM396.92 1004.20h2.7v22.90h-2.7zM402.25 1003.30h2.7v23.80h-2.7zM407.58 1002.39h2.7v24.71h-2.7zM412.92 1003.30h2.7v23.80h-2.7zM418.25 1003.30h2.7v23.80h-2.7zM423.58 1003.84h2.7v23.26h-2.7zM428.92 1003.84h2.7v23.26h-2.7zM434.25 1004.20h2.7v22.90h-2.7zM439.58 1003.30h2.7v23.80h-2.7zM444.92 1002.94h2.7v24.16h-2.7zM450.25 1001.85h2.7v25.25h-2.7zM455.58 1002.39h2.7v24.71h-2.7zM460.92 1002.03h2.7v25.07h-2.7zM466.25 1004.20h2.7v22.90h-2.7zM471.58 1005.47h2.7v21.63h-2.7zM476.92 1006.01h2.7v21.09h-2.7zM482.25 1006.01h2.7v21.09h-2.7zM487.58 1005.65h2.7v21.45h-2.7zM492.92 1006.92h2.7v20.18h-2.7zM498.25 1005.47h2.7v21.63h-2.7zM503.58 1005.11h2.7v21.99h-2.7zM508.92 1005.47h2.7v21.63h-2.7zM514.25 1005.65h2.7v21.45h-2.7zM519.58 1008.73h2.7v18.37h-2.7zM524.92 1009.09h2.7v18.01h-2.7zM530.25 1011.44h2.7v15.66h-2.7zM535.58 1013.25h2.7v13.85h-2.7zM540.92 1012.35h2.7v14.75h-2.7zM546.25 1012.71h2.7v14.39h-2.7zM551.58 1011.99h2.7v15.11h-2.7zM556.92 1010.18h2.7v16.92h-2.7zM562.25 1010.18h2.7v16.92h-2.7zM567.58 1010.90h2.7v16.20h-2.7zM572.92 1011.44h2.7v15.66h-2.7zM578.25 1010.90h2.7v16.20h-2.7zM583.58 1011.44h2.7v15.66h-2.7z"/>
<path fill="#f2be42" d="M98.25 938.00h2.7v34.03h-2.7zM103.58 938.00h2.7v34.57h-2.7zM108.92 938.00h2.7v34.94h-2.7zM114.25 938.00h2.7v34.94h-2.7zM119.58 938.00h2.7v35.84h-2.7zM124.92 938.00h2.7v36.75h-2.7zM130.25 938.00h2.7v37.29h-2.7zM135.58 938.00h2.7v38.19h-2.7zM140.92 938.00h2.7v37.11h-2.7zM146.25 938.00h2.7v36.75h-2.7zM151.58 938.00h2.7v37.29h-2.7zM156.92 938.00h2.7v37.65h-2.7zM162.25 938.00h2.7v39.46h-2.7zM167.58 938.00h2.7v39.46h-2.7zM172.92 938.00h2.7v40.00h-2.7zM178.25 938.00h2.7v39.10h-2.7zM183.58 938.00h2.7v38.92h-2.7zM188.92 938.00h2.7v39.10h-2.7zM194.25 938.00h2.7v39.46h-2.7zM199.58 938.00h2.7v40.00h-2.7zM204.92 938.00h2.7v38.56h-2.7zM210.25 938.00h2.7v40.00h-2.7zM215.58 938.00h2.7v40.00h-2.7zM220.92 938.00h2.7v40.00h-2.7zM226.25 938.00h2.7v52.68h-2.7zM231.58 938.00h2.7v53.94h-2.7zM236.92 938.00h2.7v52.68h-2.7zM242.25 938.00h2.7v53.40h-2.7zM247.58 938.00h2.7v53.94h-2.7zM252.92 938.00h2.7v54.49h-2.7zM258.25 938.00h2.7v53.94h-2.7zM263.58 938.00h2.7v54.49h-2.7zM268.92 938.00h2.7v55.21h-2.7zM274.25 938.00h2.7v55.21h-2.7zM279.58 938.00h2.7v56.66h-2.7zM284.92 938.00h2.7v57.02h-2.7zM290.25 938.00h2.7v63.90h-2.7zM295.58 938.00h2.7v63.90h-2.7zM300.92 938.00h2.7v62.99h-2.7zM306.25 938.00h2.7v64.26h-2.7zM311.58 938.00h2.7v63.90h-2.7zM316.92 938.00h2.7v62.99h-2.7zM322.25 938.00h2.7v62.45h-2.7zM327.58 938.00h2.7v62.99h-2.7zM332.92 938.00h2.7v64.80h-2.7zM338.25 938.00h2.7v62.99h-2.7zM343.58 938.00h2.7v63.54h-2.7zM348.92 938.00h2.7v62.63h-2.7zM354.25 938.00h2.7v64.80h-2.7zM359.58 938.00h2.7v63.90h-2.7zM364.92 938.00h2.7v62.99h-2.7zM370.25 938.00h2.7v63.54h-2.7zM375.58 938.00h2.7v62.09h-2.7zM380.92 938.00h2.7v62.63h-2.7zM386.25 938.00h2.7v63.54h-2.7zM391.58 938.00h2.7v63.90h-2.7zM396.92 938.00h2.7v64.80h-2.7zM402.25 938.00h2.7v63.90h-2.7zM407.58 938.00h2.7v62.99h-2.7zM412.92 938.00h2.7v63.90h-2.7zM418.25 938.00h2.7v63.90h-2.7zM423.58 938.00h2.7v64.44h-2.7zM428.92 938.00h2.7v64.44h-2.7zM434.25 938.00h2.7v64.80h-2.7zM439.58 938.00h2.7v63.90h-2.7zM444.92 938.00h2.7v63.54h-2.7zM450.25 938.00h2.7v62.45h-2.7zM455.58 938.00h2.7v62.99h-2.7zM460.92 938.00h2.7v62.63h-2.7zM466.25 938.00h2.7v64.80h-2.7zM471.58 938.00h2.7v66.07h-2.7zM476.92 938.00h2.7v66.61h-2.7zM482.25 938.00h2.7v66.61h-2.7zM487.58 938.00h2.7v66.25h-2.7zM492.92 938.00h2.7v67.52h-2.7zM498.25 938.00h2.7v66.07h-2.7zM503.58 938.00h2.7v65.71h-2.7zM508.92 938.00h2.7v66.07h-2.7zM514.25 938.00h2.7v66.25h-2.7zM519.58 938.00h2.7v69.33h-2.7zM524.92 938.00h2.7v69.69h-2.7zM530.25 938.00h2.7v72.04h-2.7zM535.58 938.00h2.7v73.85h-2.7zM540.92 938.00h2.7v72.95h-2.7zM546.25 938.00h2.7v73.31h-2.7zM551.58 938.00h2.7v72.59h-2.7zM556.92 938.00h2.7v70.78h-2.7zM562.25 938.00h2.7v70.78h-2.7zM567.58 938.00h2.7v71.50h-2.7zM572.92 938.00h2.7v72.04h-2.7zM578.25 938.00h2.7v71.50h-2.7zM583.58 938.00h2.7v72.04h-2.7z"/>
<polyline points="99.60,981.78 104.93,981.78 110.27,981.78 115.60,981.78 120.93,981.78 126.27,981.78 131.60,981.78 136.93,981.78 142.27,981.78 147.60,981.78 152.93,981.78 158.27,981.78 163.60,981.78 168.93,981.78 174.27,981.78 179.60,981.78 184.93,981.78 190.27,981.78 195.60,981.78 200.93,981.78 206.27,981.78 211.60,981.78 216.93,981.78 222.27,981.78 227.60,981.78 232.93,981.78 238.27,981.78 243.60,981.78 248.93,981.78 254.27,981.78 259.60,981.78 264.93,981.78 270.27,981.78 275.60,981.78 280.93,981.78 286.27,981.78 291.60,981.78 296.93,981.78 302.27,981.78 307.60,981.78 312.93,981.78 318.27,981.78 323.60,981.78 328.93,981.78 334.27,981.78 339.60,981.78 344.93,982.32 350.27,982.32 355.60,982.32 360.93,982.32 366.27,982.32 371.60,982.32 376.93,982.32 382.27,982.32 387.60,983.59 392.93,984.50 398.27,984.50 403.60,984.50 408.93,984.50 414.27,982.69 419.60,984.50 424.93,985.04 430.27,985.04 435.60,985.04 440.93,985.04 446.27,985.04 451.60,985.04 456.93,984.50 462.27,981.78 467.60,981.78 472.93,981.78 478.27,981.78 483.60,981.78 488.93,981.78 494.27,981.78 499.60,981.78 504.93,981.78 510.27,981.78 515.60,981.78 520.93,981.78 526.27,981.78 531.60,981.78 536.93,981.78 542.27,981.78 547.60,981.78 552.93,981.78 558.27,981.78 563.60,981.78 568.93,981.78 574.27,981.78 579.60,981.78 584.93,981.78" fill="none" stroke="#bebebe" stroke-width="2.9" stroke-linejoin="round"/>
<rect x="73.2" y="935.4000000000001" width="538.1999999999999" height="92.4" fill="none" stroke="#000" stroke-width="1.5"/>
<line x1="67.2" x2="73.2" y1="1027.80" y2="1027.80" stroke="#000" stroke-width="1.4"/>
<line x1="611.4" x2="617.0" y1="1027.80" y2="1027.80" stroke="#000" stroke-width="1.4"/>
<text class="t" x="61.7" y="1033.30" text-anchor="end">0%</text>
<text class="t" x="623.2" y="1033.30">0</text>
<line x1="69.7" x2="73.2" y1="1004.70" y2="1004.70" stroke="#000" stroke-width="1.4"/>
<line x1="611.4" x2="617.0" y1="1004.70" y2="1004.70" stroke="#000" stroke-width="1.4"/>
<text class="mn" x="64.5" y="1009.50" text-anchor="end">25%</text>
<text class="t" x="623.2" y="1010.20">0.5K</text>
<line x1="67.2" x2="73.2" y1="981.60" y2="981.60" stroke="#000" stroke-width="1.4"/>
<line x1="611.4" x2="617.0" y1="981.60" y2="981.60" stroke="#000" stroke-width="1.4"/>
<text class="t" x="61.7" y="987.10" text-anchor="end">50%</text>
<text class="t" x="623.2" y="987.10">1.0K</text>
<line x1="69.7" x2="73.2" y1="958.50" y2="958.50" stroke="#000" stroke-width="1.4"/>
<line x1="611.4" x2="617.0" y1="958.50" y2="958.50" stroke="#000" stroke-width="1.4"/>
<text class="mn" x="64.5" y="963.30" text-anchor="end">75%</text>
<text class="t" x="623.2" y="964.00">1.5K</text>
<line x1="67.2" x2="73.2" y1="935.40" y2="935.40" stroke="#000" stroke-width="1.4"/>
<line x1="611.4" x2="617.0" y1="935.40" y2="935.40" stroke="#000" stroke-width="1.4"/>
<text class="t" x="61.7" y="940.90" text-anchor="end">100%</text>
<text class="t" x="623.2" y="940.90">2.0K</text>
<line x1="99.60" x2="99.60" y1="1027.8000000000002" y2="1033.4" stroke="#000" stroke-width="1.4"/>
<text class="x" x="99.60" y="1052.00" text-anchor="middle">2015</text>
<line x1="163.60" x2="163.60" y1="1027.8000000000002" y2="1033.4" stroke="#000" stroke-width="1.4"/>
<text class="x" x="163.60" y="1052.00" text-anchor="middle">2016</text>
<line x1="227.60" x2="227.60" y1="1027.8000000000002" y2="1033.4" stroke="#000" stroke-width="1.4"/>
<text class="x" x="227.60" y="1052.00" text-anchor="middle">2017</text>
<line x1="291.60" x2="291.60" y1="1027.8000000000002" y2="1033.4" stroke="#000" stroke-width="1.4"/>
<text class="x" x="291.60" y="1052.00" text-anchor="middle">2018</text>
<line x1="355.60" x2="355.60" y1="1027.8000000000002" y2="1033.4" stroke="#000" stroke-width="1.4"/>
<text class="x" x="355.60" y="1052.00" text-anchor="middle">2019</text>
<line x1="419.60" x2="419.60" y1="1027.8000000000002" y2="1033.4" stroke="#000" stroke-width="1.4"/>
<text class="x" x="419.60" y="1052.00" text-anchor="middle">2020</text>
<line x1="483.60" x2="483.60" y1="1027.8000000000002" y2="1033.4" stroke="#000" stroke-width="1.4"/>
<text class="x" x="483.60" y="1052.00" text-anchor="middle">2021</text>
<line x1="547.60" x2="547.60" y1="1027.8000000000002" y2="1033.4" stroke="#000" stroke-width="1.4"/>
<text class="x" x="547.60" y="1052.00" text-anchor="middle">2022</text>
<text class="ti" x="72.4" y="932.00"><tspan font-weight="normal">(</tspan>g<tspan font-weight="normal">)</tspan> Alexa Top1K</text>
<text class="yl" text-anchor="middle" transform="translate(12.8,981.60) rotate(-90)">% of Zones</text>
<text class="yl" text-anchor="middle" transform="translate(678.2,981.60) rotate(-90)">No. of Zones</text>
<line x1="73.2" x2="611.4" y1="1149.10" y2="1149.10" stroke="#aaaaaa" stroke-width="1.3" stroke-dasharray="8.3,2.1,1.3,2.1"/>
<line x1="73.2" x2="611.4" y1="1102.90" y2="1102.90" stroke="#aaaaaa" stroke-width="1.3" stroke-dasharray="8.3,2.1,1.3,2.1"/>
<line x1="73.2" x2="611.4" y1="1126.00" y2="1126.00" stroke="#a4a4a4" stroke-width="1.2"/>
<rect x="97.35" y="1079.80" width="489.83" height="92.40" fill="#000"/>
<path fill="#0866b0" d="M98.25 1113.54h2.7v57.96h-2.7zM103.58 1113.54h2.7v57.96h-2.7zM108.92 1113.90h2.7v57.60h-2.7zM114.25 1114.81h2.7v56.69h-2.7zM119.58 1115.35h2.7v56.15h-2.7zM124.92 1116.62h2.7v54.88h-2.7zM130.25 1117.16h2.7v54.34h-2.7zM135.58 1117.16h2.7v54.34h-2.7zM140.92 1116.62h2.7v54.88h-2.7zM146.25 1116.08h2.7v55.42h-2.7zM151.58 1116.62h2.7v54.88h-2.7zM156.92 1117.16h2.7v54.34h-2.7zM162.25 1117.16h2.7v54.34h-2.7zM167.58 1116.62h2.7v54.88h-2.7zM172.92 1117.16h2.7v54.34h-2.7zM178.25 1116.08h2.7v55.42h-2.7zM183.58 1117.16h2.7v54.34h-2.7zM188.92 1117.89h2.7v53.61h-2.7zM194.25 1118.43h2.7v53.07h-2.7zM199.58 1118.97h2.7v52.53h-2.7zM204.92 1119.70h2.7v51.80h-2.7zM210.25 1120.78h2.7v50.72h-2.7zM215.58 1121.51h2.7v49.99h-2.7zM220.92 1122.05h2.7v49.45h-2.7zM226.25 1135.26h2.7v36.24h-2.7zM231.58 1136.53h2.7v34.97h-2.7zM236.92 1137.08h2.7v34.42h-2.7zM242.25 1137.44h2.7v34.06h-2.7zM247.58 1137.80h2.7v33.70h-2.7zM252.92 1138.34h2.7v33.16h-2.7zM258.25 1138.89h2.7v32.61h-2.7zM263.58 1139.25h2.7v32.25h-2.7zM268.92 1139.79h2.7v31.71h-2.7zM274.25 1140.15h2.7v31.35h-2.7zM279.58 1140.15h2.7v31.35h-2.7zM284.92 1140.70h2.7v30.80h-2.7zM290.25 1141.06h2.7v30.44h-2.7zM295.58 1141.96h2.7v29.54h-2.7zM300.92 1140.70h2.7v30.80h-2.7zM306.25 1140.70h2.7v30.80h-2.7zM311.58 1142.87h2.7v28.63h-2.7zM316.92 1141.96h2.7v29.54h-2.7zM322.25 1141.06h2.7v30.44h-2.7zM327.58 1141.42h2.7v30.08h-2.7zM332.92 1143.77h2.7v27.73h-2.7zM338.25 1142.51h2.7v28.99h-2.7zM343.58 1143.23h2.7v28.27h-2.7zM348.92 1143.23h2.7v28.27h-2.7zM354.25 1144.32h2.7v27.18h-2.7zM359.58 1144.32h2.7v27.18h-2.7zM364.92 1144.32h2.7v27.18h-2.7zM370.25 1145.04h2.7v26.46h-2.7zM375.58 1144.68h2.7v26.82h-2.7zM380.92 1145.04h2.7v26.46h-2.7zM386.25 1146.49h2.7v25.01h-2.7zM391.58 1145.04h2.7v26.46h-2.7zM396.92 1145.58h2.7v25.92h-2.7zM402.25 1144.32h2.7v27.18h-2.7zM407.58 1145.58h2.7v25.92h-2.7zM412.92 1146.49h2.7v25.01h-2.7zM418.25 1146.13h2.7v25.37h-2.7zM423.58 1145.04h2.7v26.46h-2.7zM428.92 1146.49h2.7v25.01h-2.7zM434.25 1146.13h2.7v25.37h-2.7zM439.58 1145.58h2.7v25.92h-2.7zM444.92 1146.49h2.7v25.01h-2.7zM450.25 1146.13h2.7v25.37h-2.7zM455.58 1147.39h2.7v24.11h-2.7zM460.92 1145.04h2.7v26.46h-2.7zM466.25 1147.39h2.7v24.11h-2.7zM471.58 1150.11h2.7v21.39h-2.7zM476.92 1149.20h2.7v22.30h-2.7zM482.25 1149.20h2.7v22.30h-2.7zM487.58 1148.66h2.7v22.84h-2.7zM492.92 1148.84h2.7v22.66h-2.7zM498.25 1149.20h2.7v22.30h-2.7zM503.58 1149.57h2.7v21.93h-2.7zM508.92 1149.20h2.7v22.30h-2.7zM514.25 1149.20h2.7v22.30h-2.7zM519.58 1151.01h2.7v20.49h-2.7zM524.92 1151.01h2.7v20.49h-2.7zM530.25 1152.82h2.7v18.68h-2.7zM535.58 1154.63h2.7v16.87h-2.7zM540.92 1153.37h2.7v18.13h-2.7zM546.25 1153.37h2.7v18.13h-2.7zM551.58 1153.37h2.7v18.13h-2.7zM556.92 1156.08h2.7v15.42h-2.7zM562.25 1156.44h2.7v15.06h-2.7zM567.58 1156.44h2.7v15.06h-2.7zM572.92 1156.08h2.7v15.42h-2.7zM578.25 1156.08h2.7v15.42h-2.7zM583.58 1156.99h2.7v14.51h-2.7z"/>
<path fill="#f2be42" d="M98.25 1082.40h2.7v29.74h-2.7zM103.58 1082.40h2.7v29.74h-2.7zM108.92 1082.40h2.7v30.10h-2.7zM114.25 1082.40h2.7v31.01h-2.7zM119.58 1082.40h2.7v31.55h-2.7zM124.92 1082.40h2.7v32.82h-2.7zM130.25 1082.40h2.7v33.36h-2.7zM135.58 1082.40h2.7v33.36h-2.7zM140.92 1082.40h2.7v32.82h-2.7zM146.25 1082.40h2.7v32.28h-2.7zM151.58 1082.40h2.7v32.82h-2.7zM156.92 1082.40h2.7v33.36h-2.7zM162.25 1082.40h2.7v33.36h-2.7zM167.58 1082.40h2.7v32.82h-2.7zM172.92 1082.40h2.7v33.36h-2.7zM178.25 1082.40h2.7v32.28h-2.7zM183.58 1082.40h2.7v33.36h-2.7zM188.92 1082.40h2.7v34.09h-2.7zM194.25 1082.40h2.7v34.63h-2.7zM199.58 1082.40h2.7v35.17h-2.7zM204.92 1082.40h2.7v35.90h-2.7zM210.25 1082.40h2.7v36.98h-2.7zM215.58 1082.40h2.7v37.71h-2.7zM220.92 1082.40h2.7v38.25h-2.7zM226.25 1082.40h2.7v51.46h-2.7zM231.58 1082.40h2.7v52.73h-2.7zM236.92 1082.40h2.7v53.28h-2.7zM242.25 1082.40h2.7v53.64h-2.7zM247.58 1082.40h2.7v54.00h-2.7zM252.92 1082.40h2.7v54.54h-2.7zM258.25 1082.40h2.7v55.09h-2.7zM263.58 1082.40h2.7v55.45h-2.7zM268.92 1082.40h2.7v55.99h-2.7zM274.25 1082.40h2.7v56.35h-2.7zM279.58 1082.40h2.7v56.35h-2.7zM284.92 1082.40h2.7v56.90h-2.7zM290.25 1082.40h2.7v57.26h-2.7zM295.58 1082.40h2.7v58.16h-2.7zM300.92 1082.40h2.7v56.90h-2.7zM306.25 1082.40h2.7v56.90h-2.7zM311.58 1082.40h2.7v59.07h-2.7zM316.92 1082.40h2.7v58.16h-2.7zM322.25 1082.40h2.7v57.26h-2.7zM327.58 1082.40h2.7v57.62h-2.7zM332.92 1082.40h2.7v59.97h-2.7zM338.25 1082.40h2.7v58.71h-2.7zM343.58 1082.40h2.7v59.43h-2.7zM348.92 1082.40h2.7v59.43h-2.7zM354.25 1082.40h2.7v60.52h-2.7zM359.58 1082.40h2.7v60.52h-2.7zM364.92 1082.40h2.7v60.52h-2.7zM370.25 1082.40h2.7v61.24h-2.7zM375.58 1082.40h2.7v60.88h-2.7zM380.92 1082.40h2.7v61.24h-2.7zM386.25 1082.40h2.7v62.69h-2.7zM391.58 1082.40h2.7v61.24h-2.7zM396.92 1082.40h2.7v61.78h-2.7zM402.25 1082.40h2.7v60.52h-2.7zM407.58 1082.40h2.7v61.78h-2.7zM412.92 1082.40h2.7v62.69h-2.7zM418.25 1082.40h2.7v62.33h-2.7zM423.58 1082.40h2.7v61.24h-2.7zM428.92 1082.40h2.7v62.69h-2.7zM434.25 1082.40h2.7v62.33h-2.7zM439.58 1082.40h2.7v61.78h-2.7zM444.92 1082.40h2.7v62.69h-2.7zM450.25 1082.40h2.7v62.33h-2.7zM455.58 1082.40h2.7v63.59h-2.7zM460.92 1082.40h2.7v61.24h-2.7zM466.25 1082.40h2.7v63.59h-2.7zM471.58 1082.40h2.7v66.31h-2.7zM476.92 1082.40h2.7v65.40h-2.7zM482.25 1082.40h2.7v65.40h-2.7zM487.58 1082.40h2.7v64.86h-2.7zM492.92 1082.40h2.7v65.04h-2.7zM498.25 1082.40h2.7v65.40h-2.7zM503.58 1082.40h2.7v65.77h-2.7zM508.92 1082.40h2.7v65.40h-2.7zM514.25 1082.40h2.7v65.40h-2.7zM519.58 1082.40h2.7v67.21h-2.7zM524.92 1082.40h2.7v67.21h-2.7zM530.25 1082.40h2.7v69.02h-2.7zM535.58 1082.40h2.7v70.83h-2.7zM540.92 1082.40h2.7v69.57h-2.7zM546.25 1082.40h2.7v69.57h-2.7zM551.58 1082.40h2.7v69.57h-2.7zM556.92 1082.40h2.7v72.28h-2.7zM562.25 1082.40h2.7v72.64h-2.7zM567.58 1082.40h2.7v72.64h-2.7zM572.92 1082.40h2.7v72.28h-2.7zM578.25 1082.40h2.7v72.28h-2.7zM583.58 1082.40h2.7v73.19h-2.7z"/>
<polyline points="99.60,1089.67 104.93,1089.67 110.27,1089.67 115.60,1089.67 120.93,1089.67 126.27,1089.67 131.60,1089.67 136.93,1089.67 142.27,1089.67 147.60,1089.67 152.93,1089.67 158.27,1089.67 163.60,1089.67 168.93,1089.67 174.27,1089.67 179.60,1089.67 184.93,1089.67 190.27,1089.67 195.60,1089.67 200.93,1089.67 206.27,1089.67 211.60,1089.67 216.93,1089.67 222.27,1089.67 227.60,1089.67 232.93,1089.67 238.27,1089.67 243.60,1089.67 248.93,1089.67 254.27,1089.67 259.60,1089.67 264.93,1089.67 270.27,1089.67 275.60,1089.67 280.93,1089.67 286.27,1089.67 291.60,1089.67 296.93,1091.12 302.27,1090.58 307.60,1090.03 312.93,1090.58 318.27,1090.03 323.60,1090.03 328.93,1090.21 334.27,1091.12 339.60,1090.21 344.93,1090.03 350.27,1090.03 355.60,1090.03 360.93,1090.03 366.27,1090.03 371.60,1090.03 376.93,1090.03 382.27,1090.03 387.60,1090.03 392.93,1090.03 398.27,1090.03 403.60,1090.03 408.93,1090.03 414.27,1090.03 419.60,1090.03 424.93,1090.03 430.27,1090.03 435.60,1090.03 440.93,1090.03 446.27,1090.03 451.60,1090.03 456.93,1090.03 462.27,1090.03 467.60,1089.31 472.93,1089.31 478.27,1089.31 483.60,1089.31 488.93,1089.31 494.27,1089.31 499.60,1089.31 504.93,1089.31 510.27,1089.31 515.60,1089.31 520.93,1089.31 526.27,1089.31 531.60,1089.31 536.93,1089.31 542.27,1089.31 547.60,1089.31 552.93,1089.31 558.27,1089.31 563.60,1089.31 568.93,1089.31 574.27,1089.31 579.60,1089.31 584.93,1089.31" fill="none" stroke="#bebebe" stroke-width="2.9" stroke-linejoin="round"/>
<rect x="73.2" y="1079.8000000000002" width="538.1999999999999" height="92.4" fill="none" stroke="#000" stroke-width="1.5"/>
<line x1="67.2" x2="73.2" y1="1172.20" y2="1172.20" stroke="#000" stroke-width="1.4"/>
<line x1="611.4" x2="617.0" y1="1172.20" y2="1172.20" stroke="#000" stroke-width="1.4"/>
<text class="t" x="61.7" y="1177.70" text-anchor="end">0%</text>
<text class="t" x="623.2" y="1177.70">0</text>
<line x1="69.7" x2="73.2" y1="1149.10" y2="1149.10" stroke="#000" stroke-width="1.4"/>
<line x1="611.4" x2="617.0" y1="1149.10" y2="1149.10" stroke="#000" stroke-width="1.4"/>
<text class="mn" x="64.5" y="1153.90" text-anchor="end">25%</text>
<text class="t" x="623.2" y="1154.60">2.5K</text>
<line x1="67.2" x2="73.2" y1="1126.00" y2="1126.00" stroke="#000" stroke-width="1.4"/>
<line x1="611.4" x2="617.0" y1="1126.00" y2="1126.00" stroke="#000" stroke-width="1.4"/>
<text class="t" x="61.7" y="1131.50" text-anchor="end">50%</text>
<text class="t" x="623.2" y="1131.50">5.0K</text>
<line x1="69.7" x2="73.2" y1="1102.90" y2="1102.90" stroke="#000" stroke-width="1.4"/>
<line x1="611.4" x2="617.0" y1="1102.90" y2="1102.90" stroke="#000" stroke-width="1.4"/>
<text class="mn" x="64.5" y="1107.70" text-anchor="end">75%</text>
<text class="t" x="623.2" y="1108.40">7.5K</text>
<line x1="67.2" x2="73.2" y1="1079.80" y2="1079.80" stroke="#000" stroke-width="1.4"/>
<line x1="611.4" x2="617.0" y1="1079.80" y2="1079.80" stroke="#000" stroke-width="1.4"/>
<text class="t" x="61.7" y="1085.30" text-anchor="end">100%</text>
<text class="t" x="623.2" y="1085.30">10.0K</text>
<line x1="99.60" x2="99.60" y1="1172.2000000000003" y2="1177.8000000000002" stroke="#000" stroke-width="1.4"/>
<text class="x" x="99.60" y="1196.40" text-anchor="middle">2015</text>
<line x1="163.60" x2="163.60" y1="1172.2000000000003" y2="1177.8000000000002" stroke="#000" stroke-width="1.4"/>
<text class="x" x="163.60" y="1196.40" text-anchor="middle">2016</text>
<line x1="227.60" x2="227.60" y1="1172.2000000000003" y2="1177.8000000000002" stroke="#000" stroke-width="1.4"/>
<text class="x" x="227.60" y="1196.40" text-anchor="middle">2017</text>
<line x1="291.60" x2="291.60" y1="1172.2000000000003" y2="1177.8000000000002" stroke="#000" stroke-width="1.4"/>
<text class="x" x="291.60" y="1196.40" text-anchor="middle">2018</text>
<line x1="355.60" x2="355.60" y1="1172.2000000000003" y2="1177.8000000000002" stroke="#000" stroke-width="1.4"/>
<text class="x" x="355.60" y="1196.40" text-anchor="middle">2019</text>
<line x1="419.60" x2="419.60" y1="1172.2000000000003" y2="1177.8000000000002" stroke="#000" stroke-width="1.4"/>
<text class="x" x="419.60" y="1196.40" text-anchor="middle">2020</text>
<line x1="483.60" x2="483.60" y1="1172.2000000000003" y2="1177.8000000000002" stroke="#000" stroke-width="1.4"/>
<text class="x" x="483.60" y="1196.40" text-anchor="middle">2021</text>
<line x1="547.60" x2="547.60" y1="1172.2000000000003" y2="1177.8000000000002" stroke="#000" stroke-width="1.4"/>
<text class="x" x="547.60" y="1196.40" text-anchor="middle">2022</text>
<text class="ti" x="72.4" y="1076.40"><tspan font-weight="normal">(</tspan>h<tspan font-weight="normal">)</tspan> Alexa Top1K - 10K</text>
<text class="yl" text-anchor="middle" transform="translate(12.8,1126.00) rotate(-90)">% of Zones</text>
<text class="yl" text-anchor="middle" transform="translate(678.2,1126.00) rotate(-90)">No. of Zones</text>
<line x1="73.2" x2="611.4" y1="1293.50" y2="1293.50" stroke="#aaaaaa" stroke-width="1.3" stroke-dasharray="8.3,2.1,1.3,2.1"/>
<line x1="73.2" x2="611.4" y1="1247.30" y2="1247.30" stroke="#aaaaaa" stroke-width="1.3" stroke-dasharray="8.3,2.1,1.3,2.1"/>
<line x1="73.2" x2="611.4" y1="1270.40" y2="1270.40" stroke="#a4a4a4" stroke-width="1.2"/>
<rect x="97.35" y="1224.20" width="489.83" height="92.40" fill="#000"/>
<path fill="#0866b0" d="M98.25 1250.30h2.7v65.60h-2.7zM103.58 1250.66h2.7v65.24h-2.7zM108.92 1251.03h2.7v64.87h-2.7zM114.25 1251.57h2.7v64.33h-2.7zM119.58 1252.11h2.7v63.79h-2.7zM124.92 1253.38h2.7v62.52h-2.7zM130.25 1253.92h2.7v61.98h-2.7zM135.58 1254.28h2.7v61.62h-2.7zM140.92 1253.92h2.7v61.98h-2.7zM146.25 1253.92h2.7v61.98h-2.7zM151.58 1254.28h2.7v61.62h-2.7zM156.92 1255.19h2.7v60.71h-2.7zM162.25 1255.73h2.7v60.17h-2.7zM167.58 1255.73h2.7v60.17h-2.7zM172.92 1256.46h2.7v59.44h-2.7zM178.25 1256.09h2.7v59.81h-2.7zM183.58 1256.09h2.7v59.81h-2.7zM188.92 1256.46h2.7v59.44h-2.7zM194.25 1257.00h2.7v58.90h-2.7zM199.58 1257.54h2.7v58.36h-2.7zM204.92 1258.81h2.7v57.09h-2.7zM210.25 1259.71h2.7v56.19h-2.7zM215.58 1260.08h2.7v55.82h-2.7zM220.92 1260.08h2.7v55.82h-2.7zM226.25 1271.48h2.7v44.42h-2.7zM231.58 1273.29h2.7v42.61h-2.7zM236.92 1273.29h2.7v42.61h-2.7zM242.25 1273.29h2.7v42.61h-2.7zM247.58 1273.83h2.7v42.07h-2.7zM252.92 1274.20h2.7v41.70h-2.7zM258.25 1274.56h2.7v41.34h-2.7zM263.58 1275.10h2.7v40.80h-2.7zM268.92 1276.01h2.7v39.89h-2.7zM274.25 1276.91h2.7v38.99h-2.7zM279.58 1276.91h2.7v38.99h-2.7zM284.92 1277.45h2.7v38.45h-2.7zM290.25 1277.82h2.7v38.08h-2.7zM295.58 1278.18h2.7v37.72h-2.7zM300.92 1275.64h2.7v40.26h-2.7zM306.25 1275.64h2.7v40.26h-2.7zM311.58 1276.37h2.7v39.53h-2.7zM316.92 1276.01h2.7v39.89h-2.7zM322.25 1276.37h2.7v39.53h-2.7zM327.58 1277.45h2.7v38.45h-2.7zM332.92 1282.34h2.7v33.56h-2.7zM338.25 1277.45h2.7v38.45h-2.7zM343.58 1279.63h2.7v36.27h-2.7zM348.92 1280.53h2.7v35.37h-2.7zM354.25 1280.53h2.7v35.37h-2.7zM359.58 1281.08h2.7v34.82h-2.7zM364.92 1281.44h2.7v34.46h-2.7zM370.25 1281.80h2.7v34.10h-2.7zM375.58 1282.34h2.7v33.56h-2.7zM380.92 1282.89h2.7v33.01h-2.7zM386.25 1283.25h2.7v32.65h-2.7zM391.58 1281.08h2.7v34.82h-2.7zM396.92 1281.80h2.7v34.10h-2.7zM402.25 1281.80h2.7v34.10h-2.7zM407.58 1281.80h2.7v34.10h-2.7zM412.92 1284.15h2.7v31.75h-2.7zM418.25 1283.25h2.7v32.65h-2.7zM423.58 1283.25h2.7v32.65h-2.7zM428.92 1284.15h2.7v31.75h-2.7zM434.25 1284.15h2.7v31.75h-2.7zM439.58 1284.15h2.7v31.75h-2.7zM444.92 1284.70h2.7v31.20h-2.7zM450.25 1284.70h2.7v31.20h-2.7zM455.58 1285.42h2.7v30.48h-2.7zM460.92 1285.06h2.7v30.84h-2.7zM466.25 1285.96h2.7v29.94h-2.7zM471.58 1287.77h2.7v28.13h-2.7zM476.92 1287.23h2.7v28.67h-2.7zM482.25 1287.23h2.7v28.67h-2.7zM487.58 1288.32h2.7v27.58h-2.7zM492.92 1288.32h2.7v27.58h-2.7zM498.25 1288.32h2.7v27.58h-2.7zM503.58 1288.68h2.7v27.22h-2.7zM508.92 1287.77h2.7v28.13h-2.7zM514.25 1288.68h2.7v27.22h-2.7zM519.58 1289.58h2.7v26.32h-2.7zM524.92 1290.13h2.7v25.77h-2.7zM530.25 1290.13h2.7v25.77h-2.7zM535.58 1290.85h2.7v25.05h-2.7zM540.92 1291.39h2.7v24.51h-2.7zM546.25 1291.39h2.7v24.51h-2.7zM551.58 1290.85h2.7v25.05h-2.7zM556.92 1294.47h2.7v21.43h-2.7zM562.25 1295.92h2.7v19.98h-2.7zM567.58 1295.56h2.7v20.34h-2.7zM572.92 1295.56h2.7v20.34h-2.7zM578.25 1295.92h2.7v19.98h-2.7zM583.58 1295.01h2.7v20.89h-2.7z"/>
<path fill="#f2be42" d="M98.25 1226.80h2.7v22.10h-2.7zM103.58 1226.80h2.7v22.46h-2.7zM108.92 1226.80h2.7v22.83h-2.7zM114.25 1226.80h2.7v23.37h-2.7zM119.58 1226.80h2.7v23.91h-2.7zM124.92 1228.94h2.7v23.04h-2.7zM130.25 1228.94h2.7v23.58h-2.7zM135.58 1228.94h2.7v23.94h-2.7zM140.92 1226.80h2.7v25.72h-2.7zM146.25 1226.80h2.7v25.72h-2.7zM151.58 1226.80h2.7v26.08h-2.7zM156.92 1226.80h2.7v26.99h-2.7zM162.25 1226.80h2.7v27.53h-2.7zM167.58 1226.80h2.7v27.53h-2.7zM172.92 1226.80h2.7v28.26h-2.7zM178.25 1226.80h2.7v27.89h-2.7zM183.58 1226.80h2.7v27.89h-2.7zM188.92 1226.80h2.7v28.26h-2.7zM194.25 1226.80h2.7v28.80h-2.7zM199.58 1226.80h2.7v29.34h-2.7zM204.92 1226.80h2.7v30.61h-2.7zM210.25 1226.80h2.7v31.51h-2.7zM215.58 1226.80h2.7v31.88h-2.7zM220.92 1226.80h2.7v31.88h-2.7zM226.25 1226.80h2.7v43.28h-2.7zM231.58 1226.80h2.7v45.09h-2.7zM236.92 1226.80h2.7v45.09h-2.7zM242.25 1226.80h2.7v45.09h-2.7zM247.58 1226.80h2.7v45.63h-2.7zM252.92 1226.80h2.7v46.00h-2.7zM258.25 1226.80h2.7v46.36h-2.7zM263.58 1226.80h2.7v46.90h-2.7zM268.92 1226.80h2.7v47.81h-2.7zM274.25 1226.80h2.7v48.71h-2.7zM279.58 1226.80h2.7v48.71h-2.7zM284.92 1226.80h2.7v49.25h-2.7zM290.25 1226.80h2.7v49.62h-2.7zM295.58 1226.80h2.7v49.98h-2.7zM300.92 1226.80h2.7v47.44h-2.7zM306.25 1226.80h2.7v47.44h-2.7zM311.58 1226.80h2.7v48.17h-2.7zM316.92 1226.80h2.7v47.81h-2.7zM322.25 1226.80h2.7v48.17h-2.7zM327.58 1226.80h2.7v49.25h-2.7zM332.92 1226.80h2.7v54.14h-2.7zM338.25 1226.80h2.7v49.25h-2.7zM343.58 1226.80h2.7v51.43h-2.7zM348.92 1226.80h2.7v52.33h-2.7zM354.25 1226.80h2.7v52.33h-2.7zM359.58 1226.80h2.7v52.88h-2.7zM364.92 1226.80h2.7v53.24h-2.7zM370.25 1226.80h2.7v53.60h-2.7zM375.58 1226.80h2.7v54.14h-2.7zM380.92 1226.80h2.7v54.69h-2.7zM386.25 1226.80h2.7v55.05h-2.7zM391.58 1226.80h2.7v52.88h-2.7zM396.92 1226.80h2.7v53.60h-2.7zM402.25 1226.80h2.7v53.60h-2.7zM407.58 1226.80h2.7v53.60h-2.7zM412.92 1226.80h2.7v55.95h-2.7zM418.25 1226.80h2.7v55.05h-2.7zM423.58 1226.80h2.7v55.05h-2.7zM428.92 1226.80h2.7v55.95h-2.7zM434.25 1226.80h2.7v55.95h-2.7zM439.58 1226.80h2.7v55.95h-2.7zM444.92 1226.80h2.7v56.50h-2.7zM450.25 1226.80h2.7v56.50h-2.7zM455.58 1226.80h2.7v57.22h-2.7zM460.92 1226.80h2.7v56.86h-2.7zM466.25 1226.80h2.7v57.76h-2.7zM471.58 1226.80h2.7v59.57h-2.7zM476.92 1226.80h2.7v59.03h-2.7zM482.25 1226.80h2.7v59.03h-2.7zM487.58 1226.80h2.7v60.12h-2.7zM492.92 1226.80h2.7v60.12h-2.7zM498.25 1226.80h2.7v60.12h-2.7zM503.58 1226.80h2.7v60.48h-2.7zM508.92 1226.80h2.7v59.57h-2.7zM514.25 1226.80h2.7v60.48h-2.7zM519.58 1226.80h2.7v61.38h-2.7zM524.92 1226.80h2.7v61.93h-2.7zM530.25 1226.80h2.7v61.93h-2.7zM535.58 1226.80h2.7v62.65h-2.7zM540.92 1226.80h2.7v63.19h-2.7zM546.25 1226.80h2.7v63.19h-2.7zM551.58 1226.80h2.7v62.65h-2.7zM556.92 1226.80h2.7v66.27h-2.7zM562.25 1226.80h2.7v67.72h-2.7zM567.58 1226.80h2.7v67.36h-2.7zM572.92 1226.80h2.7v67.36h-2.7zM578.25 1226.80h2.7v67.72h-2.7zM583.58 1226.80h2.7v66.81h-2.7z"/>
<path fill="#eb7a3c" d="M124.92 1224.90h2.7v2.64h-2.7zM130.25 1224.90h2.7v2.64h-2.7zM135.58 1224.90h2.7v2.64h-2.7z"/>
<polyline points="99.60,1234.21 104.93,1234.21 110.27,1234.21 115.60,1234.21 120.93,1234.21 126.27,1234.21 131.60,1234.21 136.93,1234.21 142.27,1234.21 147.60,1234.21 152.93,1234.21 158.27,1234.21 163.60,1234.21 168.93,1234.21 174.27,1234.21 179.60,1234.21 184.93,1234.21 190.27,1234.21 195.60,1234.21 200.93,1234.21 206.27,1234.21 211.60,1234.21 216.93,1234.21 222.27,1234.21 227.60,1234.21 232.93,1234.21 238.27,1234.21 243.60,1234.21 248.93,1234.21 254.27,1234.21 259.60,1234.21 264.93,1234.21 270.27,1234.21 275.60,1234.21 280.93,1234.21 286.27,1234.21 291.60,1234.21 296.93,1234.21 302.27,1234.21 307.60,1234.21 312.93,1234.21 318.27,1234.21 323.60,1234.21 328.93,1234.21 334.27,1234.21 339.60,1234.21 344.93,1234.58 350.27,1234.58 355.60,1234.58 360.93,1234.58 366.27,1234.58 371.60,1234.58 376.93,1234.58 382.27,1234.58 387.60,1234.58 392.93,1234.58 398.27,1234.58 403.60,1234.58 408.93,1234.58 414.27,1234.58 419.60,1234.58 424.93,1234.58 430.27,1234.58 435.60,1234.58 440.93,1234.58 446.27,1234.58 451.60,1234.58 456.93,1234.58 462.27,1234.58 467.60,1234.58 472.93,1234.58 478.27,1234.58 483.60,1234.58 488.93,1234.58 494.27,1234.58 499.60,1234.58 504.93,1234.58 510.27,1234.58 515.60,1234.58 520.93,1234.58 526.27,1234.58 531.60,1234.58 536.93,1234.58 542.27,1234.58 547.60,1234.58 552.93,1234.58 558.27,1234.58 563.60,1234.58 568.93,1234.58 574.27,1234.58 579.60,1234.58 584.93,1234.58" fill="none" stroke="#bebebe" stroke-width="2.9" stroke-linejoin="round"/>
<rect x="73.2" y="1224.2" width="538.1999999999999" height="92.4" fill="none" stroke="#000" stroke-width="1.5"/>
<line x1="67.2" x2="73.2" y1="1316.60" y2="1316.60" stroke="#000" stroke-width="1.4"/>
<line x1="611.4" x2="617.0" y1="1316.60" y2="1316.60" stroke="#000" stroke-width="1.4"/>
<text class="t" x="61.7" y="1322.10" text-anchor="end">0%</text>
<text class="t" x="623.2" y="1322.10">0</text>
<line x1="69.7" x2="73.2" y1="1293.50" y2="1293.50" stroke="#000" stroke-width="1.4"/>
<line x1="611.4" x2="617.0" y1="1293.50" y2="1293.50" stroke="#000" stroke-width="1.4"/>
<text class="mn" x="64.5" y="1298.30" text-anchor="end">25%</text>
<text class="t" x="623.2" y="1299.00">25K</text>
<line x1="67.2" x2="73.2" y1="1270.40" y2="1270.40" stroke="#000" stroke-width="1.4"/>
<line x1="611.4" x2="617.0" y1="1270.40" y2="1270.40" stroke="#000" stroke-width="1.4"/>
<text class="t" x="61.7" y="1275.90" text-anchor="end">50%</text>
<text class="t" x="623.2" y="1275.90">50K</text>
<line x1="69.7" x2="73.2" y1="1247.30" y2="1247.30" stroke="#000" stroke-width="1.4"/>
<line x1="611.4" x2="617.0" y1="1247.30" y2="1247.30" stroke="#000" stroke-width="1.4"/>
<text class="mn" x="64.5" y="1252.10" text-anchor="end">75%</text>
<text class="t" x="623.2" y="1252.80">75K</text>
<line x1="67.2" x2="73.2" y1="1224.20" y2="1224.20" stroke="#000" stroke-width="1.4"/>
<line x1="611.4" x2="617.0" y1="1224.20" y2="1224.20" stroke="#000" stroke-width="1.4"/>
<text class="t" x="61.7" y="1229.70" text-anchor="end">100%</text>
<text class="t" x="623.2" y="1229.70">100K</text>
<line x1="99.60" x2="99.60" y1="1316.6000000000001" y2="1322.2" stroke="#000" stroke-width="1.4"/>
<text class="x" x="99.60" y="1340.80" text-anchor="middle">2015</text>
<line x1="163.60" x2="163.60" y1="1316.6000000000001" y2="1322.2" stroke="#000" stroke-width="1.4"/>
<text class="x" x="163.60" y="1340.80" text-anchor="middle">2016</text>
<line x1="227.60" x2="227.60" y1="1316.6000000000001" y2="1322.2" stroke="#000" stroke-width="1.4"/>
<text class="x" x="227.60" y="1340.80" text-anchor="middle">2017</text>
<line x1="291.60" x2="291.60" y1="1316.6000000000001" y2="1322.2" stroke="#000" stroke-width="1.4"/>
<text class="x" x="291.60" y="1340.80" text-anchor="middle">2018</text>
<line x1="355.60" x2="355.60" y1="1316.6000000000001" y2="1322.2" stroke="#000" stroke-width="1.4"/>
<text class="x" x="355.60" y="1340.80" text-anchor="middle">2019</text>
<line x1="419.60" x2="419.60" y1="1316.6000000000001" y2="1322.2" stroke="#000" stroke-width="1.4"/>
<text class="x" x="419.60" y="1340.80" text-anchor="middle">2020</text>
<line x1="483.60" x2="483.60" y1="1316.6000000000001" y2="1322.2" stroke="#000" stroke-width="1.4"/>
<text class="x" x="483.60" y="1340.80" text-anchor="middle">2021</text>
<line x1="547.60" x2="547.60" y1="1316.6000000000001" y2="1322.2" stroke="#000" stroke-width="1.4"/>
<text class="x" x="547.60" y="1340.80" text-anchor="middle">2022</text>
<text class="ti" x="72.4" y="1220.80"><tspan font-weight="normal">(</tspan>i<tspan font-weight="normal">)</tspan> Alexa Top10K - 100K</text>
<text class="yl" text-anchor="middle" transform="translate(12.8,1270.40) rotate(-90)">% of Zones</text>
<text class="yl" text-anchor="middle" transform="translate(678.2,1270.40) rotate(-90)">No. of Zones</text>
<line x1="73.2" x2="611.4" y1="1437.90" y2="1437.90" stroke="#aaaaaa" stroke-width="1.3" stroke-dasharray="8.3,2.1,1.3,2.1"/>
<line x1="73.2" x2="611.4" y1="1391.70" y2="1391.70" stroke="#aaaaaa" stroke-width="1.3" stroke-dasharray="8.3,2.1,1.3,2.1"/>
<line x1="73.2" x2="611.4" y1="1414.80" y2="1414.80" stroke="#a4a4a4" stroke-width="1.2"/>
<rect x="97.35" y="1368.60" width="489.83" height="92.40" fill="#000"/>
<path fill="#0866b0" d="M98.25 1389.33h2.7v70.97h-2.7zM103.58 1389.87h2.7v70.43h-2.7zM108.92 1389.87h2.7v70.43h-2.7zM114.25 1391.14h2.7v69.16h-2.7zM119.58 1391.68h2.7v68.62h-2.7zM124.92 1392.95h2.7v67.35h-2.7zM130.25 1393.49h2.7v66.81h-2.7zM135.58 1394.22h2.7v66.08h-2.7zM140.92 1392.41h2.7v67.89h-2.7zM146.25 1392.04h2.7v68.26h-2.7zM151.58 1392.95h2.7v67.35h-2.7zM156.92 1393.49h2.7v66.81h-2.7zM162.25 1394.22h2.7v66.08h-2.7zM167.58 1394.22h2.7v66.08h-2.7zM172.92 1393.85h2.7v66.45h-2.7zM178.25 1393.49h2.7v66.81h-2.7zM183.58 1392.95h2.7v67.35h-2.7zM188.92 1392.95h2.7v67.35h-2.7zM194.25 1393.49h2.7v66.81h-2.7zM199.58 1394.22h2.7v66.08h-2.7zM204.92 1395.30h2.7v65.00h-2.7zM210.25 1395.66h2.7v64.64h-2.7zM215.58 1395.66h2.7v64.64h-2.7zM220.92 1397.11h2.7v63.19h-2.7zM226.25 1406.52h2.7v53.78h-2.7zM231.58 1407.43h2.7v52.87h-2.7zM236.92 1407.43h2.7v52.87h-2.7zM242.25 1407.97h2.7v52.33h-2.7zM247.58 1408.34h2.7v51.96h-2.7zM252.92 1408.34h2.7v51.96h-2.7zM258.25 1408.88h2.7v51.42h-2.7zM263.58 1409.60h2.7v50.70h-2.7zM268.92 1410.51h2.7v49.79h-2.7zM274.25 1411.05h2.7v49.25h-2.7zM279.58 1411.59h2.7v48.71h-2.7zM284.92 1411.96h2.7v48.34h-2.7zM290.25 1412.32h2.7v47.98h-2.7zM295.58 1412.86h2.7v47.44h-2.7zM300.92 1412.86h2.7v47.44h-2.7zM306.25 1413.40h2.7v46.90h-2.7zM311.58 1413.40h2.7v46.90h-2.7zM316.92 1413.40h2.7v46.90h-2.7zM322.25 1414.13h2.7v46.17h-2.7zM327.58 1413.40h2.7v46.90h-2.7zM332.92 1417.39h2.7v42.91h-2.7zM338.25 1414.13h2.7v46.17h-2.7zM343.58 1415.58h2.7v44.72h-2.7zM348.92 1415.21h2.7v45.09h-2.7zM354.25 1414.67h2.7v45.63h-2.7zM359.58 1415.21h2.7v45.09h-2.7zM364.92 1415.21h2.7v45.09h-2.7zM370.25 1415.58h2.7v44.72h-2.7zM375.58 1416.48h2.7v43.82h-2.7zM380.92 1417.02h2.7v43.28h-2.7zM386.25 1415.94h2.7v44.36h-2.7zM391.58 1414.67h2.7v45.63h-2.7zM396.92 1417.02h2.7v43.28h-2.7zM402.25 1415.94h2.7v44.36h-2.7zM407.58 1415.58h2.7v44.72h-2.7zM412.92 1417.39h2.7v42.91h-2.7zM418.25 1418.83h2.7v41.47h-2.7zM423.58 1418.29h2.7v42.01h-2.7zM428.92 1418.29h2.7v42.01h-2.7zM434.25 1418.83h2.7v41.47h-2.7zM439.58 1418.29h2.7v42.01h-2.7zM444.92 1419.56h2.7v40.74h-2.7zM450.25 1418.29h2.7v42.01h-2.7zM455.58 1420.64h2.7v39.66h-2.7zM460.92 1418.29h2.7v42.01h-2.7zM466.25 1418.29h2.7v42.01h-2.7zM471.58 1419.20h2.7v41.10h-2.7zM476.92 1418.83h2.7v41.47h-2.7zM482.25 1419.56h2.7v40.74h-2.7zM487.58 1419.56h2.7v40.74h-2.7zM492.92 1420.64h2.7v39.66h-2.7zM498.25 1421.37h2.7v38.93h-2.7zM503.58 1421.91h2.7v38.39h-2.7zM508.92 1421.01h2.7v39.29h-2.7zM514.25 1421.91h2.7v38.39h-2.7zM519.58 1423.18h2.7v37.12h-2.7zM524.92 1423.18h2.7v37.12h-2.7zM530.25 1423.72h2.7v36.58h-2.7zM535.58 1423.72h2.7v36.58h-2.7zM540.92 1424.26h2.7v36.04h-2.7zM546.25 1425.53h2.7v34.77h-2.7zM551.58 1425.53h2.7v34.77h-2.7zM556.92 1427.89h2.7v32.41h-2.7zM562.25 1428.25h2.7v32.05h-2.7zM567.58 1428.61h2.7v31.69h-2.7zM572.92 1429.15h2.7v31.15h-2.7zM578.25 1429.15h2.7v31.15h-2.7zM583.58 1429.70h2.7v30.60h-2.7z"/>
<path fill="#f2be42" d="M98.25 1372.85h2.7v15.07h-2.7zM103.58 1372.85h2.7v15.62h-2.7zM108.92 1372.85h2.7v15.62h-2.7zM114.25 1372.85h2.7v16.88h-2.7zM119.58 1372.85h2.7v17.43h-2.7zM124.92 1375.03h2.7v16.52h-2.7zM130.25 1375.39h2.7v16.70h-2.7zM135.58 1375.39h2.7v17.43h-2.7zM140.92 1372.85h2.7v18.15h-2.7zM146.25 1372.85h2.7v17.79h-2.7zM151.58 1372.85h2.7v18.69h-2.7zM156.92 1372.85h2.7v19.24h-2.7zM162.25 1372.85h2.7v19.96h-2.7zM167.58 1372.85h2.7v19.96h-2.7zM172.92 1372.85h2.7v19.60h-2.7zM178.25 1372.85h2.7v19.24h-2.7zM183.58 1371.20h2.7v20.35h-2.7zM188.92 1371.20h2.7v20.35h-2.7zM194.25 1371.20h2.7v20.89h-2.7zM199.58 1371.20h2.7v21.62h-2.7zM204.92 1371.20h2.7v22.70h-2.7zM210.25 1371.20h2.7v23.06h-2.7zM215.58 1371.20h2.7v23.06h-2.7zM220.92 1371.20h2.7v24.51h-2.7zM226.25 1371.20h2.7v33.92h-2.7zM231.58 1371.20h2.7v34.83h-2.7zM236.92 1371.20h2.7v34.83h-2.7zM242.25 1371.20h2.7v35.37h-2.7zM247.58 1371.20h2.7v35.74h-2.7zM252.92 1371.20h2.7v35.74h-2.7zM258.25 1371.20h2.7v36.28h-2.7zM263.58 1371.20h2.7v37.00h-2.7zM268.92 1371.20h2.7v37.91h-2.7zM274.25 1371.20h2.7v38.45h-2.7zM279.58 1371.20h2.7v38.99h-2.7zM284.92 1371.20h2.7v39.36h-2.7zM290.25 1371.20h2.7v39.72h-2.7zM295.58 1371.20h2.7v40.26h-2.7zM300.92 1371.20h2.7v40.26h-2.7zM306.25 1371.20h2.7v40.80h-2.7zM311.58 1371.20h2.7v40.80h-2.7zM316.92 1371.20h2.7v40.80h-2.7zM322.25 1371.20h2.7v41.53h-2.7zM327.58 1371.20h2.7v40.80h-2.7zM332.92 1371.20h2.7v44.79h-2.7zM338.25 1371.20h2.7v41.53h-2.7zM343.58 1371.20h2.7v42.98h-2.7zM348.92 1371.20h2.7v42.61h-2.7zM354.25 1371.20h2.7v42.07h-2.7zM359.58 1371.20h2.7v42.61h-2.7zM364.92 1371.20h2.7v42.61h-2.7zM370.25 1371.20h2.7v42.98h-2.7zM375.58 1371.20h2.7v43.88h-2.7zM380.92 1371.20h2.7v44.42h-2.7zM386.25 1371.20h2.7v43.34h-2.7zM391.58 1371.20h2.7v42.07h-2.7zM396.92 1371.20h2.7v44.42h-2.7zM402.25 1371.20h2.7v43.34h-2.7zM407.58 1371.20h2.7v42.98h-2.7zM412.92 1371.20h2.7v44.79h-2.7zM418.25 1371.20h2.7v46.23h-2.7zM423.58 1371.20h2.7v45.69h-2.7zM428.92 1371.20h2.7v45.69h-2.7zM434.25 1371.20h2.7v46.23h-2.7zM439.58 1371.20h2.7v45.69h-2.7zM444.92 1371.20h2.7v46.96h-2.7zM450.25 1371.20h2.7v45.69h-2.7zM455.58 1371.20h2.7v48.04h-2.7zM460.92 1371.20h2.7v45.69h-2.7zM466.25 1371.20h2.7v45.69h-2.7zM471.58 1371.20h2.7v46.60h-2.7zM476.92 1371.20h2.7v46.23h-2.7zM482.25 1371.20h2.7v46.96h-2.7zM487.58 1371.20h2.7v46.96h-2.7zM492.92 1371.20h2.7v48.04h-2.7zM498.25 1371.20h2.7v48.77h-2.7zM503.58 1371.20h2.7v49.31h-2.7zM508.92 1371.20h2.7v48.41h-2.7zM514.25 1371.20h2.7v49.31h-2.7zM519.58 1371.20h2.7v50.58h-2.7zM524.92 1371.20h2.7v50.58h-2.7zM530.25 1371.20h2.7v51.12h-2.7zM535.58 1371.20h2.7v51.12h-2.7zM540.92 1371.20h2.7v51.66h-2.7zM546.25 1371.20h2.7v52.93h-2.7zM551.58 1371.20h2.7v52.93h-2.7zM556.92 1371.20h2.7v55.29h-2.7zM562.25 1371.20h2.7v55.65h-2.7zM567.58 1371.20h2.7v56.01h-2.7zM572.92 1371.20h2.7v56.55h-2.7zM578.25 1371.20h2.7v56.55h-2.7zM583.58 1371.20h2.7v57.10h-2.7z"/>
<path fill="#eb7a3c" d="M98.25 1369.30h2.7v2.15h-2.7zM103.58 1369.30h2.7v2.15h-2.7zM108.92 1369.30h2.7v2.15h-2.7zM114.25 1369.30h2.7v2.15h-2.7zM119.58 1369.30h2.7v2.15h-2.7zM124.92 1369.30h2.7v4.33h-2.7zM130.25 1369.30h2.7v4.69h-2.7zM135.58 1369.30h2.7v4.69h-2.7zM140.92 1369.30h2.7v2.15h-2.7zM146.25 1369.30h2.7v2.15h-2.7zM151.58 1369.30h2.7v2.15h-2.7zM156.92 1369.30h2.7v2.15h-2.7zM162.25 1369.30h2.7v2.15h-2.7zM167.58 1369.30h2.7v2.15h-2.7zM172.92 1369.30h2.7v2.15h-2.7zM178.25 1369.30h2.7v2.15h-2.7z"/>
<polyline points="99.60,1381.93 104.93,1381.75 110.27,1381.75 115.60,1381.57 120.93,1381.57 126.27,1381.39 131.60,1381.39 136.93,1381.21 142.27,1381.21 147.60,1381.21 152.93,1381.02 158.27,1381.02 163.60,1381.02 168.93,1380.84 174.27,1380.84 179.60,1380.84 184.93,1380.84 190.27,1380.66 195.60,1380.66 200.93,1380.66 206.27,1380.48 211.60,1380.48 216.93,1380.48 222.27,1380.48 227.60,1380.48 232.93,1380.48 238.27,1380.48 243.60,1380.48 248.93,1380.48 254.27,1380.48 259.60,1380.48 264.93,1380.48 270.27,1380.66 275.60,1380.66 280.93,1380.66 286.27,1380.84 291.60,1380.84 296.93,1381.93 302.27,1383.20 307.60,1383.20 312.93,1383.74 318.27,1382.65 323.60,1383.20 328.93,1382.65 334.27,1383.74 339.60,1383.20 344.93,1383.20 350.27,1383.20 355.60,1383.20 360.93,1382.65 366.27,1382.65 371.60,1383.20 376.93,1382.65 382.27,1382.65 387.60,1382.84 392.93,1385.91 398.27,1414.88 403.60,1389.53 408.93,1396.77 414.27,1413.43 419.60,1417.05 424.93,1404.92 430.27,1416.32 435.60,1407.64 440.93,1402.20 446.27,1417.05 451.60,1402.20 456.93,1419.40 462.27,1404.01 467.60,1402.20 472.93,1423.56 478.27,1403.11 483.60,1423.93 488.93,1423.56 494.27,1424.29 499.60,1408.54 504.93,1416.69 510.27,1413.97 515.60,1413.97 520.93,1430.26 526.27,1413.97 531.60,1413.97 536.93,1433.88 542.27,1413.97 547.60,1423.56 552.93,1417.59 558.27,1385.01 563.60,1386.82 568.93,1397.68 574.27,1394.06 579.60,1403.11 584.93,1425.74" fill="none" stroke="#bebebe" stroke-width="2.9" stroke-linejoin="round"/>
<rect x="73.2" y="1368.6000000000001" width="538.1999999999999" height="92.4" fill="none" stroke="#000" stroke-width="1.5"/>
<line x1="67.2" x2="73.2" y1="1461.00" y2="1461.00" stroke="#000" stroke-width="1.4"/>
<line x1="611.4" x2="617.0" y1="1461.00" y2="1461.00" stroke="#000" stroke-width="1.4"/>
<text class="t" x="61.7" y="1466.50" text-anchor="end">0%</text>
<text class="t" x="623.2" y="1466.50">0</text>
<line x1="69.7" x2="73.2" y1="1437.90" y2="1437.90" stroke="#000" stroke-width="1.4"/>
<line x1="611.4" x2="617.0" y1="1437.90" y2="1437.90" stroke="#000" stroke-width="1.4"/>
<text class="mn" x="64.5" y="1442.70" text-anchor="end">25%</text>
<text class="t" x="623.2" y="1443.40">0.25M</text>
<line x1="67.2" x2="73.2" y1="1414.80" y2="1414.80" stroke="#000" stroke-width="1.4"/>
<line x1="611.4" x2="617.0" y1="1414.80" y2="1414.80" stroke="#000" stroke-width="1.4"/>
<text class="t" x="61.7" y="1420.30" text-anchor="end">50%</text>
<text class="t" x="623.2" y="1420.30">0.50M</text>
<line x1="69.7" x2="73.2" y1="1391.70" y2="1391.70" stroke="#000" stroke-width="1.4"/>
<line x1="611.4" x2="617.0" y1="1391.70" y2="1391.70" stroke="#000" stroke-width="1.4"/>
<text class="mn" x="64.5" y="1396.50" text-anchor="end">75%</text>
<text class="t" x="623.2" y="1397.20">0.75M</text>
<line x1="67.2" x2="73.2" y1="1368.60" y2="1368.60" stroke="#000" stroke-width="1.4"/>
<line x1="611.4" x2="617.0" y1="1368.60" y2="1368.60" stroke="#000" stroke-width="1.4"/>
<text class="t" x="61.7" y="1374.10" text-anchor="end">100%</text>
<text class="t" x="623.2" y="1374.10">1.00M</text>
<line x1="99.60" x2="99.60" y1="1461.0000000000002" y2="1466.6000000000001" stroke="#000" stroke-width="1.4"/>
<text class="x" x="99.60" y="1485.20" text-anchor="middle">2015</text>
<line x1="163.60" x2="163.60" y1="1461.0000000000002" y2="1466.6000000000001" stroke="#000" stroke-width="1.4"/>
<text class="x" x="163.60" y="1485.20" text-anchor="middle">2016</text>
<line x1="227.60" x2="227.60" y1="1461.0000000000002" y2="1466.6000000000001" stroke="#000" stroke-width="1.4"/>
<text class="x" x="227.60" y="1485.20" text-anchor="middle">2017</text>
<line x1="291.60" x2="291.60" y1="1461.0000000000002" y2="1466.6000000000001" stroke="#000" stroke-width="1.4"/>
<text class="x" x="291.60" y="1485.20" text-anchor="middle">2018</text>
<line x1="355.60" x2="355.60" y1="1461.0000000000002" y2="1466.6000000000001" stroke="#000" stroke-width="1.4"/>
<text class="x" x="355.60" y="1485.20" text-anchor="middle">2019</text>
<line x1="419.60" x2="419.60" y1="1461.0000000000002" y2="1466.6000000000001" stroke="#000" stroke-width="1.4"/>
<text class="x" x="419.60" y="1485.20" text-anchor="middle">2020</text>
<line x1="483.60" x2="483.60" y1="1461.0000000000002" y2="1466.6000000000001" stroke="#000" stroke-width="1.4"/>
<text class="x" x="483.60" y="1485.20" text-anchor="middle">2021</text>
<line x1="547.60" x2="547.60" y1="1461.0000000000002" y2="1466.6000000000001" stroke="#000" stroke-width="1.4"/>
<text class="x" x="547.60" y="1485.20" text-anchor="middle">2022</text>
<text class="ti" x="72.4" y="1365.20"><tspan font-weight="normal">(</tspan>j<tspan font-weight="normal">)</tspan> Alexa Top 100K+</text>
<text class="yl" text-anchor="middle" transform="translate(12.8,1414.80) rotate(-90)">% of Zones</text>
<text class="yl" text-anchor="middle" transform="translate(678.2,1414.80) rotate(-90)">No. of Zones</text>
</svg></body></html>
